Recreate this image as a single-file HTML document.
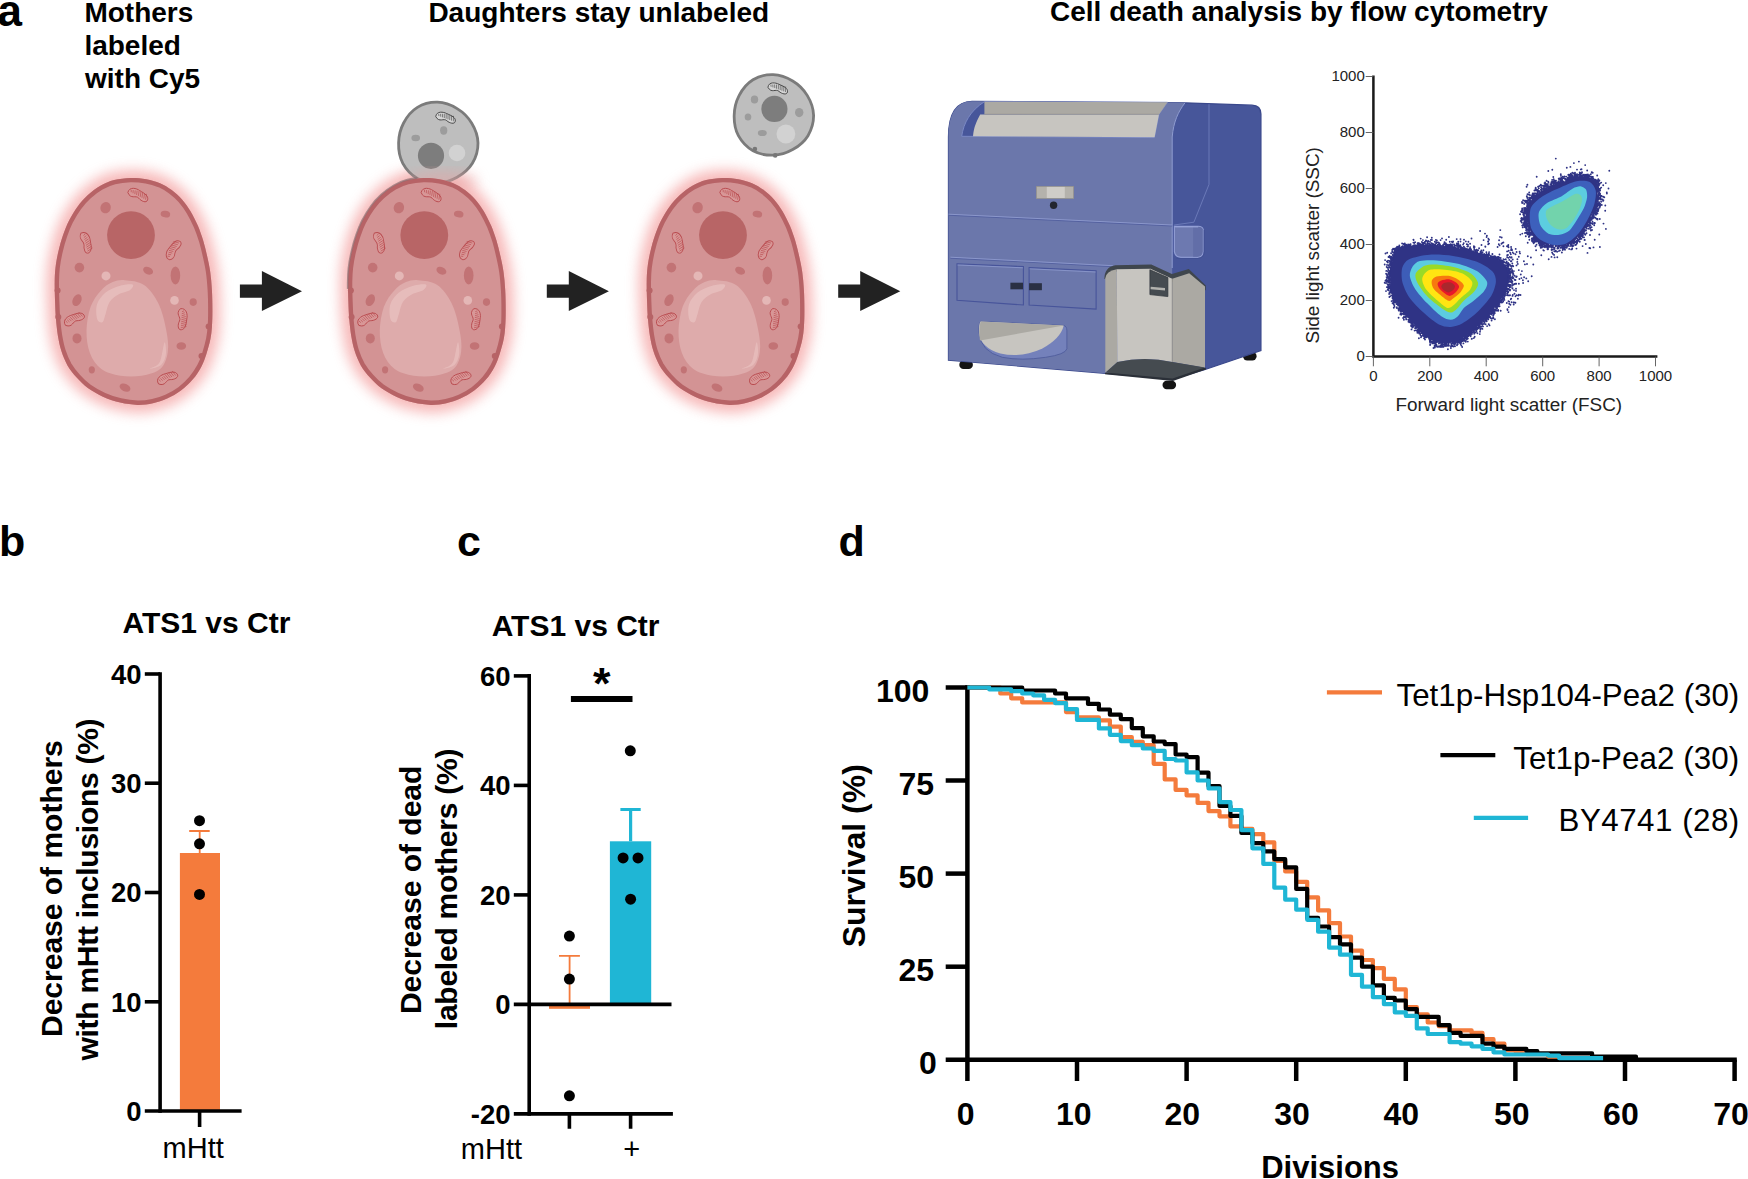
<!DOCTYPE html>
<html lang="en">
<head>
<meta charset="utf-8">
<title>Figure</title>
<style>
html,body{margin:0;padding:0;background:#fff;}
body{width:1748px;height:1179px;overflow:hidden;}
svg{display:block;}
text{font-family:"Liberation Sans",sans-serif;fill:#000;}
.b{font-weight:bold;}
</style>
</head>
<body>
<svg width="1748" height="1179" viewBox="0 0 1748 1179">
<rect width="1748" height="1179" fill="#fff"/>
<defs>
<filter id="glow" x="-30%" y="-30%" width="160%" height="160%"><feGaussianBlur stdDeviation="6.5"/></filter>
<filter id="soft" x="-10%" y="-10%" width="120%" height="120%"><feGaussianBlur stdDeviation="0.5"/></filter>
<linearGradient id="fadeg" x1="0" y1="0" x2="0" y2="1"><stop offset="0.72" stop-color="#fff" stop-opacity="0"/><stop offset="1" stop-color="#e9a0a0" stop-opacity="0.75"/></linearGradient>
<g id="mother">
<clipPath id="cellclip"><path d="M130.4 177.9C135.8 177.8 141.3 178.3 146.2 179.2C151.2 180 155.7 181.4 160 183.2C164.2 185.1 168 187.3 171.7 190.1C175.4 192.8 179 196.2 182.2 199.7C185.3 203.3 187.9 206.9 190.5 211.2C193.1 215.6 195.8 221 197.9 225.8C199.9 230.6 201.5 235.2 203.1 240.3C204.6 245.3 205.9 250.8 207.1 256C208.3 261.3 209.4 266.2 210.2 271.8C211 277.5 211.5 283.6 211.9 290C212.3 296.4 212.4 304.3 212.4 310.4C212.4 316.5 212.3 321.9 211.9 326.7C211.6 331.4 211.3 334.3 210.4 338.9C209.5 343.5 207.8 349.5 206.3 354.2C204.8 358.8 203.5 362.6 201.2 366.9C198.9 371.1 196 375.7 192.6 379.6C189.2 383.6 185.1 387.5 180.9 390.6C176.6 393.8 171.8 396.4 167.1 398.6C162.4 400.7 157.8 402.2 152.9 403.2C147.9 404.3 143 405 137.6 404.9C132.1 404.7 126 403.8 120.3 402.5C114.6 401.2 108.8 399.3 103.5 396.9C98.1 394.5 92.7 391.5 88.2 388.3C83.7 385 80.1 381.4 76.7 377.6C73.2 373.8 70.1 369.8 67.5 365.4C65 360.9 63 356 61.4 351.1C59.8 346.2 58.8 340.9 57.9 335.8C57.1 330.7 56.6 326.2 56.1 320.5C55.6 314.9 55.3 308.6 55.1 302.2C54.9 295.8 54.6 287.8 54.7 282C54.8 276.3 54.9 272.9 55.5 267.8C56.1 262.7 57.1 256.9 58.4 251.5C59.6 246 61.2 240.3 63 235.2C64.8 230 66.7 225.2 69.1 220.4C71.6 215.7 74.4 210.9 77.5 206.7C80.6 202.4 84.1 198.5 87.9 195.1C91.7 191.6 96 188.3 100.4 185.8C104.8 183.3 109.1 181.4 114.2 180.1C119.2 178.8 125.1 178.1 130.4 177.9Z"/></clipPath>
<path d="M130.4 177.9C135.8 177.8 141.3 178.3 146.2 179.2C151.2 180 155.7 181.4 160 183.2C164.2 185.1 168 187.3 171.7 190.1C175.4 192.8 179 196.2 182.2 199.7C185.3 203.3 187.9 206.9 190.5 211.2C193.1 215.6 195.8 221 197.9 225.8C199.9 230.6 201.5 235.2 203.1 240.3C204.6 245.3 205.9 250.8 207.1 256C208.3 261.3 209.4 266.2 210.2 271.8C211 277.5 211.5 283.6 211.9 290C212.3 296.4 212.4 304.3 212.4 310.4C212.4 316.5 212.3 321.9 211.9 326.7C211.6 331.4 211.3 334.3 210.4 338.9C209.5 343.5 207.8 349.5 206.3 354.2C204.8 358.8 203.5 362.6 201.2 366.9C198.9 371.1 196 375.7 192.6 379.6C189.2 383.6 185.1 387.5 180.9 390.6C176.6 393.8 171.8 396.4 167.1 398.6C162.4 400.7 157.8 402.2 152.9 403.2C147.9 404.3 143 405 137.6 404.9C132.1 404.7 126 403.8 120.3 402.5C114.6 401.2 108.8 399.3 103.5 396.9C98.1 394.5 92.7 391.5 88.2 388.3C83.7 385 80.1 381.4 76.7 377.6C73.2 373.8 70.1 369.8 67.5 365.4C65 360.9 63 356 61.4 351.1C59.8 346.2 58.8 340.9 57.9 335.8C57.1 330.7 56.6 326.2 56.1 320.5C55.6 314.9 55.3 308.6 55.1 302.2C54.9 295.8 54.6 287.8 54.7 282C54.8 276.3 54.9 272.9 55.5 267.8C56.1 262.7 57.1 256.9 58.4 251.5C59.6 246 61.2 240.3 63 235.2C64.8 230 66.7 225.2 69.1 220.4C71.6 215.7 74.4 210.9 77.5 206.7C80.6 202.4 84.1 198.5 87.9 195.1C91.7 191.6 96 188.3 100.4 185.8C104.8 183.3 109.1 181.4 114.2 180.1C119.2 178.8 125.1 178.1 130.4 177.9Z" fill="#D39394"/>
<path d="M130.4 177.9C135.8 177.8 141.3 178.3 146.2 179.2C151.2 180 155.7 181.4 160 183.2C164.2 185.1 168 187.3 171.7 190.1C175.4 192.8 179 196.2 182.2 199.7C185.3 203.3 187.9 206.9 190.5 211.2C193.1 215.6 195.8 221 197.9 225.8C199.9 230.6 201.5 235.2 203.1 240.3C204.6 245.3 205.9 250.8 207.1 256C208.3 261.3 209.4 266.2 210.2 271.8C211 277.5 211.5 283.6 211.9 290C212.3 296.4 212.4 304.3 212.4 310.4C212.4 316.5 212.3 321.9 211.9 326.7C211.6 331.4 211.3 334.3 210.4 338.9C209.5 343.5 207.8 349.5 206.3 354.2C204.8 358.8 203.5 362.6 201.2 366.9C198.9 371.1 196 375.7 192.6 379.6C189.2 383.6 185.1 387.5 180.9 390.6C176.6 393.8 171.8 396.4 167.1 398.6C162.4 400.7 157.8 402.2 152.9 403.2C147.9 404.3 143 405 137.6 404.9C132.1 404.7 126 403.8 120.3 402.5C114.6 401.2 108.8 399.3 103.5 396.9C98.1 394.5 92.7 391.5 88.2 388.3C83.7 385 80.1 381.4 76.7 377.6C73.2 373.8 70.1 369.8 67.5 365.4C65 360.9 63 356 61.4 351.1C59.8 346.2 58.8 340.9 57.9 335.8C57.1 330.7 56.6 326.2 56.1 320.5C55.6 314.9 55.3 308.6 55.1 302.2C54.9 295.8 54.6 287.8 54.7 282C54.8 276.3 54.9 272.9 55.5 267.8C56.1 262.7 57.1 256.9 58.4 251.5C59.6 246 61.2 240.3 63 235.2C64.8 230 66.7 225.2 69.1 220.4C71.6 215.7 74.4 210.9 77.5 206.7C80.6 202.4 84.1 198.5 87.9 195.1C91.7 191.6 96 188.3 100.4 185.8C104.8 183.3 109.1 181.4 114.2 180.1C119.2 178.8 125.1 178.1 130.4 177.9Z" fill="none" stroke="#B76366" stroke-width="8.6" clip-path="url(#cellclip)"/>
<circle cx="131.0" cy="235.1" r="23.9" fill="#B86566"/>
<path d="M125 280.2C130.3 280.7 138.5 281.1 144 284.9C149.6 288.8 154.6 295.8 158.3 303.2C162 310.6 164.6 321.3 166.1 329.4C167.7 337.5 168.8 345.3 167.8 351.9C166.8 358.6 164.6 365.1 160.2 369.1C155.8 373 148.3 374.6 141.7 375.7C135 376.8 127 376.8 120.3 375.7C113.6 374.6 106.3 372.8 101.3 369.1C96.2 365.3 92.3 359.6 89.9 353.1C87.4 346.7 86.4 338.3 86.5 330.6C86.7 322.8 88.2 313.5 90.6 306.8C93 300.2 97.1 294.8 100.8 290.7C104.5 286.5 108.6 283.8 112.7 282.1C116.7 280.4 119.8 279.7 125 280.2Z" fill="#DEABAB"/>
<path d="M97.2 319.2C96.3 316.2 95.6 308.9 97 304.4C98.4 300 101.9 295.6 105.6 292.6C109.2 289.5 114.6 287.2 119.1 285.9C123.6 284.6 130.9 283.8 132.6 284.5C134.4 285.2 132.2 288.5 129.8 290.2C127.4 291.8 121.7 292.5 118.4 294.5C115 296.4 111.7 298.8 109.6 302.1C107.5 305.3 106.7 310.6 105.6 313.9C104.4 317.3 103.8 321.4 102.5 322.2C101.1 323.1 98.1 322.1 97.2 319.2Z" fill="#E7BEBD" opacity="0.85"/>
<path d="M150 368.6C149.7 368.2 157.1 367 159.5 362.6C161.9 358.3 163.4 343.8 164.5 342.4C165.5 341.1 166.5 350.6 165.9 354.3C165.3 358.1 163.8 362.6 161.1 365C158.5 367.4 150.3 369 150 368.6Z" fill="#E7BEBD" opacity="0.8"/>
<ellipse cx="105.6" cy="207.7" rx="5.2" ry="5.7" fill="#C27375" transform="rotate(20 105.6 207.7)"/>
<ellipse cx="165.4" cy="214.1" rx="4.8" ry="3.3" fill="#C27375" transform="rotate(10 165.4 214.1)"/>
<ellipse cx="79.4" cy="267.6" rx="4.8" ry="4.8" fill="#C27375" transform="rotate(0 79.4 267.6)"/>
<ellipse cx="148.1" cy="270.7" rx="5.2" ry="3.6" fill="#C27375" transform="rotate(25 148.1 270.7)"/>
<ellipse cx="175.4" cy="275.4" rx="4.8" ry="9.0" fill="#C27375" transform="rotate(0 175.4 275.4)"/>
<ellipse cx="77.0" cy="300.2" rx="4.3" ry="6.2" fill="#C27375" transform="rotate(25 77.0 300.2)"/>
<ellipse cx="193.2" cy="302.1" rx="3.6" ry="3.8" fill="#C27375" transform="rotate(0 193.2 302.1)"/>
<ellipse cx="77.0" cy="338.4" rx="4.5" ry="5.0" fill="#C27375" transform="rotate(0 77.0 338.4)"/>
<ellipse cx="181.3" cy="346.0" rx="4.8" ry="3.8" fill="#C27375" transform="rotate(0 181.3 346.0)"/>
<ellipse cx="91.8" cy="369.8" rx="3.1" ry="3.6" fill="#C27375" transform="rotate(0 91.8 369.8)"/>
<ellipse cx="125.0" cy="387.6" rx="5.7" ry="3.8" fill="#C27375" transform="rotate(25 125.0 387.6)"/>
<circle cx="106.0" cy="275.9" r="4.5" fill="#E4B7B6"/>
<circle cx="174.5" cy="300.4" r="4.3" fill="#E4B7B6"/>
<g transform="translate(138.1 194.7) rotate(15)"><path d="M-10.5 0.5C-10.5 -6.0 -3.1 -5.8 0.5 -4.4C6.3 -2.8 10.5 -1.4 10.5 2.5C10.5 6.4 4.7 5.5 1.6 3.2C-2.1 0.5 -5.8 6.9 -10.5 0.5Z" fill="#D89797" stroke="#B94B4F" stroke-width="0.9"/><path d="M-7.9 -3.0L-7.3 -0.6M-5.9 -3.2L-5.3 -0.1M-3.9 -3.4L-3.3 0.3M-2.0 -3.7L-1.4 0.7M0.0 -3.9L0.6 1.1M2.0 -3.7L2.6 1.6M3.9 -3.4L4.5 2.0M5.9 -3.2L6.5 2.4M7.9 -3.0L8.5 2.9" fill="none" stroke="#B94B4F" stroke-width="0.7" opacity="0.85"/></g>
<g transform="translate(86.2 242.3) rotate(63)"><path d="M-10.5 0.5C-10.5 -6.0 -3.1 -5.8 0.5 -4.4C6.3 -2.8 10.5 -1.4 10.5 2.5C10.5 6.4 4.7 5.5 1.6 3.2C-2.1 0.5 -5.8 6.9 -10.5 0.5Z" fill="#D89797" stroke="#B94B4F" stroke-width="0.9"/><path d="M-7.9 -3.0L-7.3 -0.6M-5.9 -3.2L-5.3 -0.1M-3.9 -3.4L-3.3 0.3M-2.0 -3.7L-1.4 0.7M0.0 -3.9L0.6 1.1M2.0 -3.7L2.6 1.6M3.9 -3.4L4.5 2.0M5.9 -3.2L6.5 2.4M7.9 -3.0L8.5 2.9" fill="none" stroke="#B94B4F" stroke-width="0.7" opacity="0.85"/></g>
<g transform="translate(173.2 249.9) rotate(-68)"><path d="M-10.5 0.5C-10.5 -6.0 -3.1 -5.8 0.5 -4.4C6.3 -2.8 10.5 -1.4 10.5 2.5C10.5 6.4 4.7 5.5 1.6 3.2C-2.1 0.5 -5.8 6.9 -10.5 0.5Z" fill="#D89797" stroke="#B94B4F" stroke-width="0.9"/><path d="M-7.9 -3.0L-7.3 -0.6M-5.9 -3.2L-5.3 -0.1M-3.9 -3.4L-3.3 0.3M-2.0 -3.7L-1.4 0.7M0.0 -3.9L0.6 1.1M2.0 -3.7L2.6 1.6M3.9 -3.4L4.5 2.0M5.9 -3.2L6.5 2.4M7.9 -3.0L8.5 2.9" fill="none" stroke="#B94B4F" stroke-width="0.7" opacity="0.85"/></g>
<g transform="translate(73.9 319.0) rotate(-35)"><path d="M-10.5 0.5C-10.5 -6.0 -3.1 -5.8 0.5 -4.4C6.3 -2.8 10.5 -1.4 10.5 2.5C10.5 6.4 4.7 5.5 1.6 3.2C-2.1 0.5 -5.8 6.9 -10.5 0.5Z" fill="#D89797" stroke="#B94B4F" stroke-width="0.9"/><path d="M-7.9 -3.0L-7.3 -0.6M-5.9 -3.2L-5.3 -0.1M-3.9 -3.4L-3.3 0.3M-2.0 -3.7L-1.4 0.7M0.0 -3.9L0.6 1.1M2.0 -3.7L2.6 1.6M3.9 -3.4L4.5 2.0M5.9 -3.2L6.5 2.4M7.9 -3.0L8.5 2.9" fill="none" stroke="#B94B4F" stroke-width="0.7" opacity="0.85"/></g>
<g transform="translate(182.4 319.0) rotate(82)"><path d="M-10.5 0.5C-10.5 -6.0 -3.1 -5.8 0.5 -4.4C6.3 -2.8 10.5 -1.4 10.5 2.5C10.5 6.4 4.7 5.5 1.6 3.2C-2.1 0.5 -5.8 6.9 -10.5 0.5Z" fill="#D89797" stroke="#B94B4F" stroke-width="0.9"/><path d="M-7.9 -3.0L-7.3 -0.6M-5.9 -3.2L-5.3 -0.1M-3.9 -3.4L-3.3 0.3M-2.0 -3.7L-1.4 0.7M0.0 -3.9L0.6 1.1M2.0 -3.7L2.6 1.6M3.9 -3.4L4.5 2.0M5.9 -3.2L6.5 2.4M7.9 -3.0L8.5 2.9" fill="none" stroke="#B94B4F" stroke-width="0.7" opacity="0.85"/></g>
<g transform="translate(167.1 377.8) rotate(-33)"><path d="M-10.5 0.5C-10.5 -6.0 -3.1 -5.8 0.5 -4.4C6.3 -2.8 10.5 -1.4 10.5 2.5C10.5 6.4 4.7 5.5 1.6 3.2C-2.1 0.5 -5.8 6.9 -10.5 0.5Z" fill="#D89797" stroke="#B94B4F" stroke-width="0.9"/><path d="M-7.9 -3.0L-7.3 -0.6M-5.9 -3.2L-5.3 -0.1M-3.9 -3.4L-3.3 0.3M-2.0 -3.7L-1.4 0.7M0.0 -3.9L0.6 1.1M2.0 -3.7L2.6 1.6M3.9 -3.4L4.5 2.0M5.9 -3.2L6.5 2.4M7.9 -3.0L8.5 2.9" fill="none" stroke="#B94B4F" stroke-width="0.7" opacity="0.85"/></g>
<circle cx="57.6" cy="290.5" r="3" fill="#B76366"/>
<circle cx="58.3" cy="317.0" r="3" fill="#B76366"/>
<circle cx="208.6" cy="326.5" r="3" fill="#B76366"/>
<circle cx="201.5" cy="356.0" r="3" fill="#B76366"/>
</g>
</defs>
<path d="M130.4 177.9C135.8 177.8 141.3 178.3 146.2 179.2C151.2 180 155.7 181.4 160 183.2C164.2 185.1 168 187.3 171.7 190.1C175.4 192.8 179 196.2 182.2 199.7C185.3 203.3 187.9 206.9 190.5 211.2C193.1 215.6 195.8 221 197.9 225.8C199.9 230.6 201.5 235.2 203.1 240.3C204.6 245.3 205.9 250.8 207.1 256C208.3 261.3 209.4 266.2 210.2 271.8C211 277.5 211.5 283.6 211.9 290C212.3 296.4 212.4 304.3 212.4 310.4C212.4 316.5 212.3 321.9 211.9 326.7C211.6 331.4 211.3 334.3 210.4 338.9C209.5 343.5 207.8 349.5 206.3 354.2C204.8 358.8 203.5 362.6 201.2 366.9C198.9 371.1 196 375.7 192.6 379.6C189.2 383.6 185.1 387.5 180.9 390.6C176.6 393.8 171.8 396.4 167.1 398.6C162.4 400.7 157.8 402.2 152.9 403.2C147.9 404.3 143 405 137.6 404.9C132.1 404.7 126 403.8 120.3 402.5C114.6 401.2 108.8 399.3 103.5 396.9C98.1 394.5 92.7 391.5 88.2 388.3C83.7 385 80.1 381.4 76.7 377.6C73.2 373.8 70.1 369.8 67.5 365.4C65 360.9 63 356 61.4 351.1C59.8 346.2 58.8 340.9 57.9 335.8C57.1 330.7 56.6 326.2 56.1 320.5C55.6 314.9 55.3 308.6 55.1 302.2C54.9 295.8 54.6 287.8 54.7 282C54.8 276.3 54.9 272.9 55.5 267.8C56.1 262.7 57.1 256.9 58.4 251.5C59.6 246 61.2 240.3 63 235.2C64.8 230 66.7 225.2 69.1 220.4C71.6 215.7 74.4 210.9 77.5 206.7C80.6 202.4 84.1 198.5 87.9 195.1C91.7 191.6 96 188.3 100.4 185.8C104.8 183.3 109.1 181.4 114.2 180.1C119.2 178.8 125.1 178.1 130.4 177.9Z" transform="translate(0.0 0)" fill="#F28A8A" stroke="#F28A8A" stroke-width="16" filter="url(#glow)" opacity="0.6"/>
<path d="M130.4 177.9C135.8 177.8 141.3 178.3 146.2 179.2C151.2 180 155.7 181.4 160 183.2C164.2 185.1 168 187.3 171.7 190.1C175.4 192.8 179 196.2 182.2 199.7C185.3 203.3 187.9 206.9 190.5 211.2C193.1 215.6 195.8 221 197.9 225.8C199.9 230.6 201.5 235.2 203.1 240.3C204.6 245.3 205.9 250.8 207.1 256C208.3 261.3 209.4 266.2 210.2 271.8C211 277.5 211.5 283.6 211.9 290C212.3 296.4 212.4 304.3 212.4 310.4C212.4 316.5 212.3 321.9 211.9 326.7C211.6 331.4 211.3 334.3 210.4 338.9C209.5 343.5 207.8 349.5 206.3 354.2C204.8 358.8 203.5 362.6 201.2 366.9C198.9 371.1 196 375.7 192.6 379.6C189.2 383.6 185.1 387.5 180.9 390.6C176.6 393.8 171.8 396.4 167.1 398.6C162.4 400.7 157.8 402.2 152.9 403.2C147.9 404.3 143 405 137.6 404.9C132.1 404.7 126 403.8 120.3 402.5C114.6 401.2 108.8 399.3 103.5 396.9C98.1 394.5 92.7 391.5 88.2 388.3C83.7 385 80.1 381.4 76.7 377.6C73.2 373.8 70.1 369.8 67.5 365.4C65 360.9 63 356 61.4 351.1C59.8 346.2 58.8 340.9 57.9 335.8C57.1 330.7 56.6 326.2 56.1 320.5C55.6 314.9 55.3 308.6 55.1 302.2C54.9 295.8 54.6 287.8 54.7 282C54.8 276.3 54.9 272.9 55.5 267.8C56.1 262.7 57.1 256.9 58.4 251.5C59.6 246 61.2 240.3 63 235.2C64.8 230 66.7 225.2 69.1 220.4C71.6 215.7 74.4 210.9 77.5 206.7C80.6 202.4 84.1 198.5 87.9 195.1C91.7 191.6 96 188.3 100.4 185.8C104.8 183.3 109.1 181.4 114.2 180.1C119.2 178.8 125.1 178.1 130.4 177.9Z" transform="translate(293.3 0)" fill="#F28A8A" stroke="#F28A8A" stroke-width="16" filter="url(#glow)" opacity="0.6"/>
<path d="M130.4 177.9C135.8 177.8 141.3 178.3 146.2 179.2C151.2 180 155.7 181.4 160 183.2C164.2 185.1 168 187.3 171.7 190.1C175.4 192.8 179 196.2 182.2 199.7C185.3 203.3 187.9 206.9 190.5 211.2C193.1 215.6 195.8 221 197.9 225.8C199.9 230.6 201.5 235.2 203.1 240.3C204.6 245.3 205.9 250.8 207.1 256C208.3 261.3 209.4 266.2 210.2 271.8C211 277.5 211.5 283.6 211.9 290C212.3 296.4 212.4 304.3 212.4 310.4C212.4 316.5 212.3 321.9 211.9 326.7C211.6 331.4 211.3 334.3 210.4 338.9C209.5 343.5 207.8 349.5 206.3 354.2C204.8 358.8 203.5 362.6 201.2 366.9C198.9 371.1 196 375.7 192.6 379.6C189.2 383.6 185.1 387.5 180.9 390.6C176.6 393.8 171.8 396.4 167.1 398.6C162.4 400.7 157.8 402.2 152.9 403.2C147.9 404.3 143 405 137.6 404.9C132.1 404.7 126 403.8 120.3 402.5C114.6 401.2 108.8 399.3 103.5 396.9C98.1 394.5 92.7 391.5 88.2 388.3C83.7 385 80.1 381.4 76.7 377.6C73.2 373.8 70.1 369.8 67.5 365.4C65 360.9 63 356 61.4 351.1C59.8 346.2 58.8 340.9 57.9 335.8C57.1 330.7 56.6 326.2 56.1 320.5C55.6 314.9 55.3 308.6 55.1 302.2C54.9 295.8 54.6 287.8 54.7 282C54.8 276.3 54.9 272.9 55.5 267.8C56.1 262.7 57.1 256.9 58.4 251.5C59.6 246 61.2 240.3 63 235.2C64.8 230 66.7 225.2 69.1 220.4C71.6 215.7 74.4 210.9 77.5 206.7C80.6 202.4 84.1 198.5 87.9 195.1C91.7 191.6 96 188.3 100.4 185.8C104.8 183.3 109.1 181.4 114.2 180.1C119.2 178.8 125.1 178.1 130.4 177.9Z" transform="translate(592.0 0)" fill="#F28A8A" stroke="#F28A8A" stroke-width="16" filter="url(#glow)" opacity="0.6"/>
<g><path d="M478 142.9C478.1 149.6 475.8 157.5 472.4 163.3C468.9 169 462.9 174 457.1 177.2C451.3 180.5 444.2 182.6 437.6 182.8C431 183 423.2 181.6 417.4 178.4C411.6 175.1 406 169.2 402.8 163.3C399.7 157.4 398.4 149.6 398.6 142.9C398.7 136.2 400.5 128.9 403.6 123C406.7 117.1 411.7 110.9 417.4 107.4C423.1 103.9 431 102 437.6 102.2C444.2 102.4 451.4 105.1 457.1 108.6C462.8 112 468.1 117.2 471.6 123C475.1 128.7 477.8 136.2 478 142.9Z" fill="#BEBEBE" stroke="#7B7B7B" stroke-width="2.8"/><circle cx="431.0" cy="155.8" r="13.1" fill="#7D7D7D"/><circle cx="457.0" cy="153.0" r="8.3" fill="#D2D2D2"/><ellipse cx="443.7" cy="130.5" rx="3.6" ry="4.2" fill="#9C9C9C"/><ellipse cx="415.7" cy="138.0" rx="4.3" ry="3.2" fill="#9C9C9C"/><g transform="translate(445.7 117.5) rotate(8)"><path d="M-10.0 0.5C-10.0 -5.5 -3.0 -5.3 0.5 -4.0C6.0 -2.5 10.0 -1.3 10.0 2.3C10.0 5.9 4.5 5.1 1.5 3.0C-2.0 0.4 -5.5 6.4 -10.0 0.5Z" fill="#D4D4D4" stroke="#444" stroke-width="0.9"/><path d="M-7.5 -2.7L-6.9 -0.5M-5.6 -2.9L-5.0 -0.1M-3.8 -3.2L-3.1 0.3M-1.9 -3.4L-1.3 0.7M0.0 -3.6L0.6 1.1M1.9 -3.4L2.5 1.5M3.8 -3.2L4.3 1.9M5.6 -2.9L6.2 2.3M7.5 -2.7L8.1 2.7" fill="none" stroke="#444" stroke-width="0.7" opacity="0.85"/></g></g>
<ellipse cx="442" cy="181" rx="36" ry="9" fill="#E7A3A3" opacity="0.55" filter="url(#glow)"/>
<g><path d="M813.6 115.3C813.7 122 811.4 129.9 808 135.7C804.5 141.4 798.5 146.4 792.7 149.6C786.9 152.9 779.8 155 773.2 155.2C766.6 155.4 758.8 154 753 150.8C747.2 147.5 741.6 141.6 738.4 135.7C735.3 129.8 734 122 734.2 115.3C734.3 108.6 736.1 101.3 739.2 95.4C742.3 89.5 747.3 83.3 753 79.8C758.7 76.3 766.6 74.4 773.2 74.6C779.8 74.8 787 77.5 792.7 81C798.4 84.4 803.7 89.6 807.2 95.4C810.7 101.1 813.4 108.6 813.6 115.3Z" fill="#BEBEBE" stroke="#7B7B7B" stroke-width="2.8"/><circle cx="774.4" cy="108.9" r="13.1" fill="#7D7D7D"/><circle cx="785.9" cy="134.0" r="9.4" fill="#D2D2D2"/><ellipse cx="754.5" cy="99.4" rx="3.7" ry="4.0" fill="#9C9C9C"/><ellipse cx="748.0" cy="117.0" rx="3.3" ry="3.5" fill="#9C9C9C"/><ellipse cx="799.2" cy="112.6" rx="4.2" ry="4.6" fill="#9C9C9C"/><ellipse cx="762.3" cy="133.0" rx="4.5" ry="3.1" fill="#9C9C9C"/><g transform="translate(777.9 88.2) rotate(8)"><path d="M-10.0 0.5C-10.0 -5.5 -3.0 -5.3 0.5 -4.0C6.0 -2.5 10.0 -1.3 10.0 2.3C10.0 5.9 4.5 5.1 1.5 3.0C-2.0 0.4 -5.5 6.4 -10.0 0.5Z" fill="#D4D4D4" stroke="#444" stroke-width="0.9"/><path d="M-7.5 -2.7L-6.9 -0.5M-5.6 -2.9L-5.0 -0.1M-3.8 -3.2L-3.1 0.3M-1.9 -3.4L-1.3 0.7M0.0 -3.6L0.6 1.1M1.9 -3.4L2.5 1.5M3.8 -3.2L4.3 1.9M5.6 -2.9L6.2 2.3M7.5 -2.7L8.1 2.7" fill="none" stroke="#444" stroke-width="0.7" opacity="0.85"/></g></g>
<circle cx="754.9" cy="149" r="2.3" fill="#777"/><circle cx="775.2" cy="155.4" r="2.3" fill="#777"/>
<use href="#mother" transform="translate(0.0 0)"/>
<use href="#mother" transform="translate(293.3 0)"/>
<use href="#mother" transform="translate(592.0 0)"/>
<path d="M130.4 177.9C135.8 177.8 141.3 178.3 146.2 179.2C151.2 180 155.7 181.4 160 183.2C164.2 185.1 168 187.3 171.7 190.1C175.4 192.8 179 196.2 182.2 199.7C185.3 203.3 187.9 206.9 190.5 211.2C193.1 215.6 195.8 221 197.9 225.8C199.9 230.6 201.5 235.2 203.1 240.3C204.6 245.3 205.9 250.8 207.1 256C208.3 261.3 209.4 266.2 210.2 271.8C211 277.5 211.5 283.6 211.9 290C212.3 296.4 212.4 304.3 212.4 310.4C212.4 316.5 212.3 321.9 211.9 326.7C211.6 331.4 211.3 334.3 210.4 338.9C209.5 343.5 207.8 349.5 206.3 354.2C204.8 358.8 203.5 362.6 201.2 366.9C198.9 371.1 196 375.7 192.6 379.6C189.2 383.6 185.1 387.5 180.9 390.6C176.6 393.8 171.8 396.4 167.1 398.6C162.4 400.7 157.8 402.2 152.9 403.2C147.9 404.3 143 405 137.6 404.9C132.1 404.7 126 403.8 120.3 402.5C114.6 401.2 108.8 399.3 103.5 396.9C98.1 394.5 92.7 391.5 88.2 388.3C83.7 385 80.1 381.4 76.7 377.6C73.2 373.8 70.1 369.8 67.5 365.4C65 360.9 63 356 61.4 351.1C59.8 346.2 58.8 340.9 57.9 335.8C57.1 330.7 56.6 326.2 56.1 320.5C55.6 314.9 55.3 308.6 55.1 302.2C54.9 295.8 54.6 287.8 54.7 282C54.8 276.3 54.9 272.9 55.5 267.8C56.1 262.7 57.1 256.9 58.4 251.5C59.6 246 61.2 240.3 63 235.2C64.8 230 66.7 225.2 69.1 220.4C71.6 215.7 74.4 210.9 77.5 206.7C80.6 202.4 84.1 198.5 87.9 195.1C91.7 191.6 96 188.3 100.4 185.8C104.8 183.3 109.1 181.4 114.2 180.1C119.2 178.8 125.1 178.1 130.4 177.9Z" pathLength="100" stroke-dasharray="0 76 23 1" fill="none" stroke="#8C6E70" stroke-width="1.6" opacity="0.7" transform="translate(426.7 292.0) scale(1.004) translate(-426.7 -292.0) translate(293.3 0)"/>
<path d="M239.9 284.4H261.9V270.9L302.0 291.2L261.9 311.1V297.8H239.9Z" fill="#222"/>
<path d="M546.8 284.4H568.8V270.9L608.9 291.2L568.8 311.1V297.8H546.8Z" fill="#222"/>
<path d="M838.2 284.4H860.2V270.9L900.3 291.2L860.2 311.1V297.8H838.2Z" fill="#222"/>
<g class="b" font-size="28">
<text x="84.4" y="21.5">Mothers</text>
<text x="84.4" y="54.9">labeled</text>
<text x="85" y="88.4">with Cy5</text>
<text x="428.4" y="21.5">Daughters stay unlabeled</text>
<text x="1050" y="21">Cell death analysis by flow cytometry</text>
</g>
<g id="cytometer">
<rect x="959.3" y="360.5" width="13.6" height="8.6" rx="4.2" fill="#141414"/>
<rect x="1162.5" y="380.7" width="13.6" height="8.6" rx="4.2" fill="#141414"/>
<rect x="1243.0" y="351.9" width="13.6" height="8.6" rx="4.2" fill="#141414"/>
<path d="M948.5 360.1V137C948.5 113 957 101.5 972 101.3L1185 102.8L1252 105.2C1258 105.5 1260.9 108.5 1260.9 114V350.6L1205.2 369.5L1173.1 379L1105.2 373.3Z" fill="#47569A" stroke="#3A488C" stroke-width="1.3"/>
<path d="M948.5 360.1V137C948.5 113 957 101.5 972 101.3L1185 102.8C1178 112 1173.5 122 1172.2 137V372.5L1105.2 373.3Z" fill="#6B77AB"/>
<path d="M1209.0 104.2L1209.0 184.4L1193.9 222.2L1174.1 225.0" fill="none" stroke="#6E7DBB" stroke-width="0.9"/>
<path d="M1185 102.8C1178 112 1173.5 122 1172.2 137V268" fill="none" stroke="#8E9BCF" stroke-width="1"/>
<path d="M984.4 101.7C970.2 110.8 963.6 123.0 961.7 136.3L1154.3 137.6L1159.0 114.2L1167.5 102.3Z" fill="#47569A" stroke="#7A88C4" stroke-width="1"/>
<path d="M984.4 101.7L1167.5 102.3L1159.0 114.5L984.4 114.2Z" fill="#ABA9A3" />
<path d="M980.2 114.5L1159.0 114.5L1154.6 137.2L973.0 136.3C974.0 126.3 976.2 122.5 980.2 114.5Z" fill="#C7C5C0"/>
<path d="M984.4 114.2H1159.0" stroke="#98968F" stroke-width="0.7"/>
<rect x="1036.3" y="186.3" width="37.4" height="12.3" fill="#B4B2AC" stroke="#8F8D86" stroke-width="0.6"/>
<rect x="1046.8" y="186.9" width="18.0" height="11.1" fill="#CFCDC8"/>
<circle cx="1053.6" cy="205.2" r="3.7" fill="#23262F"/>
<path d="M948.5 215.1L1172.2 225.9" stroke="#5562A0" stroke-width="1.1"/>
<path d="M948.5 214.2L1172.2 225.0" stroke="#8E9BCF" stroke-width="0.9"/>
<path d="M950.4 258.1L1112.7 266.6" stroke="#5562A0" stroke-width="1.1"/>
<path d="M950.4 257.2L1112.7 265.7" stroke="#8E9BCF" stroke-width="0.9"/>
<path d="M957.0 263.8L1023.4 266.6L1023.4 305.0L957.0 300.2Z" fill="#6B77AB" stroke="#47549A" stroke-width="1.1"/>
<path d="M957.5 265.0L1022.9 267.8" stroke="#8E9BCF" stroke-width="0.8" fill="none"/>
<path d="M1029.1 267.6L1096.1 270.8L1096.1 309.1L1029.1 305.0Z" fill="#6B77AB" stroke="#47549A" stroke-width="1.1"/>
<path d="M1029.6 268.8L1095.6 272.0" stroke="#8E9BCF" stroke-width="0.8" fill="none"/>
<rect x="1010.4" y="282.7" width="12.6" height="6.6" fill="#2A3044"/>
<rect x="1029.1" y="283.2" width="12.8" height="7.0" fill="#2A3044"/>
<path d="M980.6 321.4L1063.7 325.5Q1066.9 326.1 1066.9 330.8L1066.9 348.8Q1065.5 354.4 1045.7 357.3Q1021.2 361.0 1002.3 357.3Q980.6 351.6 979.1 332.7Q978.7 323.3 980.6 321.4Z" fill="#7481BB" stroke="#4F5C9C" stroke-width="0.9"/>
<path d="M980.6 321.4L1063.7 325.5Q1060.8 338.4 1041.9 348.8Q1021.2 358.2 1000.4 353.5Q980.6 347.8 979.1 332.7Q978.7 323.3 980.6 321.4Z" fill="#C7C5C0"/>
<path d="M980.6 321.4L1063.7 325.5L980.0 340.6Q978.3 330.8 980.6 321.4Z" fill="#ABA9A3"/>
<path d="M1104.4 279.0Q1104.4 267.2 1115.2 265.3L1151.3 264.6L1171.9 274.0L1188.8 268.9L1205.8 285.5L1205.8 290.6L1189.5 276.2L1172.2 281.9L1150.6 271.8L1116.0 271.8Q1108.0 273.3 1107.0 279.0Z" fill="#3F464D"/>
<path d="M1105.3 372.8L1105.3 278.3Q1105.9 271.1 1116.7 269.2L1117.4 362.0Z" fill="#ABA9A3"/>
<path d="M1116.7 269.2L1150.6 268.7L1172.2 278.8L1172.2 362.0Q1144.8 356.2 1117.4 362.0Z" fill="#C7C5C0"/>
<path d="M1172.2 278.8L1189.2 273.3L1205.0 286.5L1205.0 367.7L1172.2 362.0Z" fill="#ABA9A3"/>
<path d="M1172.2 278.8L1172.2 362.0" stroke="#8E8C86" stroke-width="0.7" fill="none"/>
<path d="M1105.0 372.8L1105.0 374.2L1172.9 380.9L1205.8 369.6L1205.8 367.7Z" fill="#2B3038"/>
<path d="M1105.6 372.5L1117.4 362.0Q1144.8 356.2 1172.2 362.0L1205.0 367.5L1172.5 378.6Z" fill="#454B50"/>
<path d="M1149.9 269.7L1167.9 277.6L1167.9 296.6L1149.9 294.6Z" fill="#454B50" stroke="#2E343A" stroke-width="0.7"/>
<path d="M1150.6 286.7L1165.0 288.0L1165.0 290.6L1150.6 289.3Z" fill="#B2B2AE"/>
<path d="M1174.4 226.4L1174.4 251.6Q1174.8 256.7 1180.9 257.4L1197.5 257.4Q1203.2 256.7 1203.2 251.6L1203.2 229.3Q1202.5 226.8 1198.2 226.4Z" fill="#6D79B0" stroke="#919DD4" stroke-width="1.1"/>
<path d="M1193.1 226.8L1193.1 256.8L1197.5 256.8Q1202.6 256.3 1202.6 251.6L1202.6 229.3Q1202.1 227.1 1198.2 226.8Z" fill="#626EA8"/>
<path d="M1175.1 226.8L1198.2 226.8" stroke="#97A3D8" stroke-width="1.2" fill="none"/>
<path d="M1176.5 258.4L1197.9 258.4Q1204.2 257.7 1204.2 251.6L1204.2 230.0" stroke="#3F4C90" stroke-width="0.9" fill="none" opacity="0.8"/>
</g>
<g id="flowplot">
<path d="M1462.6 338.1h0M1391.1 285.2h0M1390.8 270.0h0M1429.8 336.4h0M1509.7 286.0h0M1486.9 254.1h0M1392.3 257.0h0M1506.3 285.6h0M1491.1 257.5h0M1481.7 322.5h0M1502.9 263.1h0M1476.5 252.9h0M1454.6 246.3h0M1389.2 279.6h0M1469.9 334.7h0M1502.0 295.8h0M1505.8 286.1h0M1466.5 338.2h0M1482.5 324.6h0M1506.5 270.2h0M1505.8 259.2h0M1459.6 246.1h0M1393.0 260.0h0M1453.4 342.9h0M1393.0 259.8h0M1494.7 306.0h0M1442.9 245.7h0M1416.1 330.3h0M1435.5 344.4h0M1460.7 344.3h0M1475.1 252.8h0M1505.3 290.4h0M1404.4 317.4h0M1499.1 261.0h0M1389.2 282.1h0M1435.1 341.6h0M1489.3 255.0h0M1407.2 245.4h0M1391.7 268.5h0M1390.0 280.7h0M1388.6 265.2h0M1395.0 250.0h0M1427.7 241.7h0M1386.3 279.7h0M1442.1 344.4h0M1506.6 274.0h0M1508.9 277.9h0M1464.8 248.0h0M1497.3 257.5h0M1461.5 248.7h0M1392.8 251.9h0M1392.2 251.6h0M1470.1 243.7h0M1402.3 309.5h0M1444.8 247.3h0M1394.3 305.2h0M1505.5 267.5h0M1461.3 345.4h0M1391.3 272.4h0M1457.7 246.9h0M1495.9 307.3h0M1503.7 292.2h0M1394.4 296.5h0M1510.8 282.1h0M1438.0 341.2h0M1451.4 344.6h0M1414.2 245.3h0M1399.8 250.0h0M1410.7 319.8h0M1461.2 340.9h0M1469.2 251.1h0M1398.8 248.8h0M1396.1 248.4h0M1460.3 249.3h0M1484.8 254.9h0M1393.6 304.2h0M1424.1 335.4h0M1441.0 345.9h0M1457.9 248.7h0M1495.9 259.3h0M1408.5 321.7h0M1396.8 308.0h0M1459.5 339.1h0M1475.6 253.3h0M1495.7 256.8h0M1510.2 272.6h0M1506.2 276.7h0M1497.1 308.2h0M1487.3 256.3h0M1388.5 257.0h0M1391.8 295.4h0M1389.9 284.2h0M1395.3 301.3h0M1414.7 246.4h0M1492.4 254.3h0M1390.9 285.7h0M1389.1 293.9h0M1391.1 285.8h0M1506.5 276.5h0M1388.2 286.1h0M1451.8 245.7h0M1393.8 298.7h0M1497.6 306.5h0M1501.9 294.5h0M1490.5 313.5h0M1420.1 330.2h0M1473.6 251.2h0M1433.0 343.4h0M1478.7 325.9h0M1459.8 339.5h0M1501.5 261.9h0M1434.9 347.5h0M1507.1 273.0h0M1422.0 332.6h0M1443.0 342.3h0M1462.1 340.3h0M1390.7 279.4h0M1390.9 292.3h0M1386.8 287.1h0M1504.0 298.7h0M1466.1 250.1h0M1508.2 263.0h0M1500.4 260.3h0M1498.4 305.8h0M1387.4 271.1h0M1447.9 245.8h0M1509.0 264.9h0M1460.3 246.7h0M1455.2 248.6h0M1475.3 251.1h0M1463.4 343.4h0M1392.7 254.9h0M1386.0 291.1h0M1501.9 299.7h0M1507.8 284.0h0M1508.6 276.1h0M1392.8 291.5h0M1504.4 299.9h0M1413.2 245.6h0M1405.0 313.2h0M1420.5 330.8h0M1399.5 309.3h0M1435.1 340.9h0M1505.2 289.6h0M1492.5 258.5h0M1487.0 255.7h0M1498.6 306.4h0M1436.2 341.9h0M1480.5 322.5h0M1502.4 264.0h0M1421.8 332.6h0M1389.6 281.4h0M1440.7 245.8h0M1404.9 246.7h0M1452.4 246.5h0M1392.9 290.0h0M1447.5 245.2h0M1427.5 244.9h0M1484.6 318.4h0M1388.5 288.8h0M1496.9 259.8h0M1436.8 346.5h0M1406.0 314.8h0M1436.9 242.5h0M1393.2 292.1h0M1504.3 259.6h0M1393.8 293.0h0M1393.6 260.2h0M1508.8 285.9h0M1472.8 251.6h0M1412.7 325.2h0M1505.4 291.7h0M1404.8 243.5h0M1388.7 285.0h0M1396.6 300.3h0M1461.1 247.7h0M1502.4 294.9h0M1412.4 327.5h0M1446.2 344.1h0M1432.7 245.3h0M1507.6 273.9h0M1481.3 323.8h0M1488.0 254.8h0M1479.8 253.7h0M1402.1 313.8h0M1411.4 320.3h0M1384.7 282.8h0M1405.2 248.1h0M1460.8 246.7h0M1495.8 304.6h0M1510.3 273.1h0M1491.2 314.5h0M1496.3 259.2h0M1480.7 253.1h0M1504.5 291.8h0M1502.6 261.8h0M1396.9 307.5h0M1429.9 339.6h0M1474.1 330.1h0M1464.6 338.4h0M1484.9 255.7h0M1485.3 317.7h0M1450.7 244.3h0M1448.3 341.9h0M1490.1 311.8h0M1480.5 323.4h0M1490.0 257.6h0M1509.0 281.9h0M1423.4 333.6h0M1387.7 277.3h0M1442.7 246.6h0M1498.3 258.7h0M1484.2 322.8h0M1505.2 267.0h0M1471.3 330.8h0M1499.6 306.2h0M1506.3 289.0h0M1505.3 269.2h0M1446.2 244.7h0M1504.6 291.2h0M1462.1 339.3h0M1506.6 276.1h0M1504.4 265.6h0M1491.5 311.5h0M1505.3 283.7h0M1424.5 336.2h0M1506.5 277.6h0M1493.9 307.7h0M1460.9 342.5h0M1506.3 274.4h0M1504.9 290.2h0M1478.6 327.7h0M1399.4 246.3h0M1395.2 302.2h0M1403.9 319.8h0M1388.2 288.7h0M1418.4 328.7h0M1390.8 287.1h0M1485.4 255.3h0M1419.2 333.5h0M1417.9 243.8h0M1433.0 243.9h0M1477.0 329.4h0M1425.3 336.2h0M1467.0 248.9h0M1512.6 276.5h0M1504.4 296.0h0M1418.7 327.2h0M1467.4 336.6h0M1504.3 292.5h0M1418.2 245.6h0M1402.2 247.4h0M1433.8 339.8h0M1459.1 341.9h0M1434.7 246.1h0M1444.6 344.5h0M1479.8 325.7h0M1506.0 277.0h0M1507.0 275.8h0M1491.0 318.2h0M1396.8 253.3h0M1422.9 333.7h0M1440.2 245.0h0M1508.6 273.0h0M1394.7 256.0h0M1441.6 341.6h0M1467.8 341.6h0M1472.5 329.8h0M1388.7 290.4h0M1436.7 341.3h0M1469.5 333.1h0M1449.5 247.3h0M1476.4 253.5h0M1479.2 327.6h0M1433.7 339.9h0M1389.6 271.8h0M1506.2 277.1h0M1430.9 341.1h0M1446.7 343.1h0M1425.0 246.1h0M1462.0 248.8h0M1393.3 256.3h0M1463.1 338.5h0M1396.3 247.6h0M1442.1 246.6h0M1406.2 319.4h0M1436.7 345.2h0M1502.2 260.9h0M1502.9 261.8h0M1495.9 259.6h0M1465.2 341.3h0M1394.1 256.4h0M1507.5 277.6h0M1429.2 244.0h0M1385.5 280.7h0M1447.5 247.0h0M1446.2 239.7h0M1417.8 332.2h0M1494.9 257.0h0M1388.5 272.6h0M1481.7 254.4h0M1497.6 304.9h0M1497.3 301.5h0M1492.0 256.6h0M1390.1 267.8h0M1503.2 291.9h0M1504.2 293.9h0M1420.7 244.5h0M1398.1 303.1h0M1462.0 341.2h0M1488.3 319.4h0M1390.9 268.0h0M1450.0 246.0h0M1493.0 311.5h0M1399.8 247.2h0M1508.6 273.1h0M1473.4 329.8h0M1397.1 250.6h0M1506.7 282.7h0M1459.6 341.4h0M1490.2 316.9h0M1407.0 316.1h0M1482.2 254.3h0M1390.2 285.2h0M1504.1 266.5h0M1489.5 325.4h0M1425.2 244.0h0M1434.4 341.1h0M1452.6 343.0h0M1407.3 246.8h0M1504.3 266.7h0M1455.4 342.6h0M1502.9 263.4h0M1446.1 342.5h0M1399.8 250.4h0M1457.9 340.9h0M1393.5 299.2h0M1507.2 276.6h0M1441.0 245.8h0M1446.1 342.1h0M1395.9 250.3h0M1504.4 293.5h0M1398.7 250.5h0M1507.9 273.4h0M1395.2 299.1h0M1507.6 273.5h0M1389.5 273.0h0M1475.6 332.3h0M1394.8 252.4h0M1429.9 341.4h0M1504.5 290.8h0M1418.6 330.8h0M1410.7 245.9h0M1399.0 251.5h0M1409.8 319.8h0M1444.3 244.5h0M1430.1 337.9h0M1418.5 243.3h0M1487.7 256.3h0M1391.6 301.1h0M1389.3 288.2h0M1414.2 243.1h0M1398.2 251.5h0M1403.5 313.1h0M1504.9 269.9h0M1453.1 342.6h0M1499.6 301.3h0M1419.9 330.3h0M1387.9 287.1h0M1397.1 253.4h0M1470.5 332.4h0M1494.5 310.1h0M1445.1 342.1h0M1395.4 300.8h0M1447.7 345.5h0M1470.0 250.9h0M1387.4 275.9h0M1498.5 305.2h0M1453.7 343.6h0M1417.1 331.0h0M1394.7 248.6h0M1497.6 303.7h0M1391.2 256.7h0M1423.0 243.6h0M1482.4 324.8h0M1421.6 244.9h0M1502.7 293.3h0M1392.3 266.2h0M1477.3 251.0h0M1480.9 322.6h0M1506.7 277.4h0M1417.3 245.0h0M1502.2 294.6h0M1499.1 261.7h0M1495.0 304.7h0M1391.0 272.6h0M1393.1 248.6h0M1403.4 314.0h0M1398.9 247.7h0M1504.9 287.1h0M1466.8 244.2h0M1494.0 257.6h0M1389.5 292.6h0M1395.5 256.2h0M1493.2 318.4h0M1393.8 307.8h0M1403.3 244.0h0M1458.8 247.0h0M1418.9 330.6h0M1422.1 246.2h0M1491.9 309.6h0M1425.0 337.4h0M1389.9 287.0h0M1512.6 272.7h0M1396.9 301.0h0M1507.4 284.2h0M1474.1 332.4h0M1435.5 342.9h0M1389.1 278.9h0M1406.0 245.3h0M1502.7 292.7h0M1396.4 252.0h0M1394.1 258.7h0M1478.0 253.5h0M1503.1 266.2h0M1422.2 245.7h0M1434.9 246.5h0M1393.0 260.4h0M1508.0 282.6h0M1463.1 244.6h0M1445.9 342.3h0M1440.3 245.4h0M1460.4 248.2h0M1467.6 249.5h0M1507.2 276.5h0M1458.4 340.9h0M1488.0 314.8h0M1392.2 249.9h0M1482.2 324.7h0M1428.4 336.0h0M1472.1 251.5h0M1509.1 281.2h0M1454.5 248.2h0M1392.9 298.8h0M1417.6 243.2h0M1506.4 272.9h0M1391.5 266.0h0M1504.2 264.9h0M1505.5 284.3h0M1452.7 246.8h0M1389.6 273.9h0M1435.4 342.3h0M1451.2 246.6h0M1486.6 319.0h0M1387.1 278.0h0M1504.1 298.3h0M1494.0 259.5h0M1425.1 241.8h0M1469.0 335.1h0M1389.2 274.5h0M1504.1 267.3h0M1506.6 286.6h0M1412.6 322.7h0M1499.4 304.0h0M1394.5 255.8h0M1467.7 335.6h0M1459.5 339.5h0M1468.3 249.8h0M1468.6 250.6h0M1479.4 325.1h0M1430.1 342.5h0M1501.3 302.6h0M1440.9 347.1h0M1426.3 334.3h0M1391.6 287.0h0M1493.3 308.0h0M1447.1 342.4h0M1388.1 260.6h0M1423.6 334.5h0M1390.9 257.8h0M1506.7 268.7h0M1484.3 255.0h0M1501.7 295.6h0M1493.6 313.5h0M1401.2 310.6h0M1507.8 271.6h0M1465.6 338.1h0M1465.6 248.6h0M1390.1 283.1h0M1512.8 278.2h0M1484.1 253.9h0M1402.1 309.0h0M1455.0 346.2h0M1509.1 284.6h0M1503.0 266.8h0M1395.5 254.0h0M1424.7 245.6h0M1451.0 247.6h0M1426.5 336.1h0M1470.6 248.6h0M1435.2 342.3h0M1441.5 341.6h0M1502.3 263.7h0M1511.1 277.8h0M1390.9 275.3h0M1428.7 337.4h0M1480.2 326.8h0M1400.6 313.1h0M1505.3 288.6h0M1426.0 335.5h0M1407.9 316.9h0M1503.9 294.0h0M1470.3 336.1h0M1459.9 340.3h0M1480.3 329.8h0M1465.2 337.5h0M1495.8 258.4h0M1401.9 246.8h0M1456.2 249.2h0M1499.8 261.1h0M1506.0 270.6h0M1437.2 341.9h0M1507.1 268.1h0M1458.2 241.8h0M1390.5 274.1h0M1507.4 279.3h0M1412.2 322.2h0M1431.8 339.0h0M1495.7 257.5h0M1497.4 260.1h0M1508.1 291.9h0M1402.3 248.3h0M1470.6 336.2h0M1416.3 327.0h0M1422.3 331.9h0M1452.6 342.3h0M1397.1 246.7h0M1464.7 337.3h0M1479.1 248.3h0M1423.8 245.7h0M1426.0 337.4h0M1457.7 344.3h0M1392.0 293.3h0M1469.9 333.2h0M1391.0 285.8h0M1401.4 311.6h0M1389.9 286.8h0M1507.5 280.7h0M1471.7 251.4h0M1392.7 256.9h0M1460.4 245.2h0M1440.4 342.2h0M1428.0 245.7h0M1401.0 307.5h0M1436.2 243.3h0M1393.7 255.3h0M1399.0 250.4h0M1413.4 322.4h0M1501.6 263.6h0M1484.8 255.1h0M1405.7 246.8h0M1386.9 274.5h0M1486.3 316.8h0M1393.4 262.4h0M1428.5 241.3h0M1427.6 335.7h0M1441.4 344.2h0M1394.5 257.6h0M1494.1 258.6h0M1405.3 313.8h0M1495.6 260.1h0M1486.0 255.9h0M1446.5 245.2h0M1493.6 310.5h0M1502.9 291.1h0M1450.9 348.0h0M1499.9 259.1h0M1401.2 310.4h0M1489.9 313.0h0M1419.6 245.9h0M1393.6 256.1h0M1510.4 271.6h0M1398.8 308.3h0M1411.5 329.4h0M1502.3 263.9h0M1506.8 268.5h0M1428.9 336.4h0M1493.6 312.0h0M1391.8 266.3h0M1393.2 252.8h0M1397.4 251.0h0M1480.6 322.2h0M1504.7 290.1h0M1504.3 296.3h0M1479.8 324.2h0M1506.0 268.2h0M1424.1 242.7h0M1387.3 267.4h0M1389.2 275.5h0M1453.8 247.4h0M1397.9 304.8h0M1508.2 289.1h0M1433.9 244.7h0M1493.3 307.7h0M1414.7 245.9h0M1450.5 341.5h0M1505.2 290.4h0M1395.1 296.6h0M1393.2 292.7h0M1507.0 270.7h0M1485.6 320.7h0M1391.3 288.8h0M1507.8 285.4h0M1472.1 252.5h0M1409.7 321.2h0M1458.3 342.4h0M1387.2 252.8h0M1391.3 263.8h0M1390.1 267.4h0M1485.7 255.1h0M1392.2 259.0h0M1426.7 245.9h0M1503.6 266.4h0M1449.1 341.7h0M1413.3 326.8h0M1394.1 249.5h0M1481.1 252.8h0M1502.9 293.7h0M1393.3 295.7h0M1500.1 298.4h0M1510.9 287.1h0M1439.0 244.2h0M1413.4 242.6h0M1406.4 316.7h0M1492.4 257.0h0M1480.5 322.2h0M1410.2 321.6h0M1496.7 305.0h0M1454.8 341.0h0M1501.2 261.3h0M1406.2 244.7h0M1508.6 271.8h0M1506.9 285.9h0M1499.2 260.3h0M1484.8 255.4h0M1451.7 248.0h0M1470.7 331.2h0M1460.0 339.9h0M1502.4 295.0h0M1495.0 257.4h0M1491.2 257.0h0M1493.9 307.6h0M1485.2 319.6h0M1470.3 335.1h0M1406.2 315.5h0M1505.8 279.9h0M1486.9 315.7h0M1418.9 338.2h0M1501.9 297.7h0M1502.3 262.7h0M1488.1 317.1h0M1392.8 296.6h0M1494.1 258.1h0M1491.6 320.5h0M1434.0 341.7h0M1502.7 263.6h0M1503.9 268.2h0M1393.6 256.1h0M1461.6 249.4h0M1506.5 262.8h0M1397.4 251.6h0M1486.7 317.6h0M1458.4 243.8h0M1430.7 245.8h0M1457.4 342.5h0M1403.1 318.0h0M1421.0 337.3h0M1497.6 302.5h0M1393.1 259.4h0M1453.5 341.6h0M1402.1 243.4h0M1444.1 244.0h0M1502.3 296.2h0M1439.9 342.9h0M1424.2 242.9h0M1413.3 326.0h0M1391.3 289.5h0M1446.6 246.0h0M1503.0 263.9h0M1398.0 247.5h0M1508.2 275.9h0M1412.7 326.3h0M1419.5 332.4h0M1423.9 243.2h0M1414.0 325.8h0M1466.5 251.1h0M1494.3 259.5h0M1391.0 264.0h0M1445.1 345.1h0M1437.7 346.9h0M1397.1 249.3h0M1436.6 246.2h0M1470.8 334.1h0M1390.6 258.4h0M1464.3 336.6h0M1395.5 299.2h0M1458.9 342.6h0M1460.6 340.3h0M1504.1 262.0h0M1403.6 248.0h0M1422.5 332.5h0M1435.9 239.9h0M1419.4 244.9h0M1394.7 254.5h0M1390.2 273.8h0M1475.6 253.1h0M1431.6 339.4h0M1452.3 341.0h0M1467.9 244.8h0M1500.2 300.1h0M1392.4 263.6h0M1500.2 261.4h0M1427.6 335.6h0M1386.8 281.6h0M1411.2 325.1h0M1507.5 279.4h0M1455.6 343.7h0M1398.0 304.4h0M1404.5 248.5h0M1434.5 343.6h0M1447.1 345.7h0M1508.1 289.3h0M1469.3 334.5h0M1494.9 319.3h0M1399.3 245.5h0M1411.5 323.4h0M1390.5 296.1h0M1476.5 252.0h0M1492.9 258.4h0M1507.0 280.3h0M1494.7 313.3h0M1404.8 312.8h0M1494.2 257.5h0M1389.7 277.2h0M1402.3 311.3h0M1489.8 312.0h0M1393.0 255.3h0M1481.2 326.7h0M1486.7 321.3h0M1475.3 328.4h0M1403.0 311.3h0M1495.4 257.0h0M1439.3 346.7h0M1463.1 340.9h0M1397.9 249.9h0M1423.8 332.6h0M1400.6 249.6h0M1480.0 331.7h0M1483.8 323.9h0M1393.1 290.7h0M1429.3 339.0h0M1455.6 342.9h0M1412.4 246.3h0M1454.4 340.2h0M1390.4 271.9h0M1428.4 337.3h0M1409.2 322.2h0M1390.7 290.4h0M1445.3 244.0h0M1487.1 326.1h0M1478.9 253.6h0M1389.7 288.3h0M1425.0 339.5h0M1506.6 279.1h0M1509.4 277.5h0M1472.5 251.2h0M1434.7 246.4h0M1391.7 286.7h0M1483.3 319.7h0M1403.8 248.9h0M1394.4 306.5h0M1389.1 278.2h0M1495.6 259.2h0M1504.4 267.9h0M1395.1 299.9h0M1393.4 294.2h0M1413.6 322.6h0M1412.7 246.5h0M1391.9 266.5h0M1503.4 261.9h0M1483.7 254.6h0M1506.2 278.5h0M1446.9 342.7h0M1428.1 243.7h0M1395.8 255.7h0M1392.7 258.8h0M1476.2 329.7h0M1426.6 337.0h0M1393.3 302.5h0M1390.4 267.5h0M1483.1 319.6h0M1505.3 286.2h0M1505.6 265.3h0M1488.7 324.1h0M1460.7 341.2h0M1439.1 341.5h0M1475.1 250.2h0M1444.8 343.7h0M1485.4 320.1h0M1406.2 247.9h0M1490.7 256.9h0M1390.1 273.3h0M1498.6 257.0h0M1505.4 287.1h0M1459.3 342.2h0M1389.9 267.4h0M1402.2 309.1h0M1502.8 260.8h0M1500.7 310.7h0M1388.3 282.5h0M1394.7 251.6h0M1393.1 300.6h0M1491.3 309.9h0M1391.2 268.9h0M1406.6 247.2h0M1504.3 289.3h0M1467.3 246.6h0M1488.0 318.2h0M1488.2 315.9h0M1443.4 346.9h0M1436.1 344.5h0M1500.6 261.9h0M1502.6 262.2h0M1448.8 345.7h0M1412.4 246.8h0M1442.7 343.6h0M1470.2 247.1h0M1505.5 295.0h0M1427.4 244.1h0M1487.9 317.2h0M1430.1 241.9h0M1389.7 257.3h0M1386.9 261.5h0M1391.8 266.1h0M1402.2 249.2h0M1438.1 242.4h0M1391.5 262.0h0M1464.9 250.0h0M1474.4 333.6h0M1451.1 245.8h0M1434.6 341.7h0M1395.3 300.2h0M1428.9 337.9h0M1413.4 326.0h0M1512.6 277.0h0M1493.7 259.1h0M1507.8 273.4h0M1502.6 302.3h0M1508.5 272.3h0M1502.5 298.4h0M1504.3 265.9h0M1487.3 316.4h0M1400.7 306.4h0M1391.2 291.2h0M1501.1 261.6h0M1496.4 258.9h0M1504.8 289.5h0M1507.8 268.8h0M1499.1 257.5h0M1507.4 274.4h0M1488.9 314.6h0M1496.2 303.2h0M1480.4 253.4h0M1469.2 332.7h0M1392.1 266.0h0M1408.6 247.4h0M1405.9 316.4h0M1384.7 264.5h0M1392.5 303.1h0M1475.1 328.2h0M1457.0 244.4h0M1496.8 310.5h0M1444.5 242.2h0M1491.2 257.5h0M1512.2 271.2h0M1502.2 263.4h0M1479.0 324.9h0M1457.4 340.9h0M1460.9 343.3h0M1499.5 302.8h0M1420.7 244.3h0M1434.8 346.6h0M1507.5 278.8h0M1480.2 322.3h0M1444.8 247.1h0M1446.1 343.6h0M1437.9 244.7h0M1461.7 338.2h0M1398.9 250.6h0M1489.9 316.6h0M1430.0 244.2h0M1422.0 332.2h0M1507.0 271.9h0M1409.5 320.9h0M1453.9 343.9h0M1393.9 294.6h0M1386.3 270.9h0M1393.3 249.2h0M1434.9 244.6h0M1389.9 261.8h0M1454.9 341.4h0M1468.8 335.0h0M1416.0 246.0h0M1444.7 242.5h0M1390.2 265.0h0M1394.3 297.9h0M1416.1 326.5h0M1506.9 279.5h0M1469.9 249.7h0M1509.4 278.9h0M1492.0 309.6h0M1388.3 277.1h0M1482.5 252.2h0M1425.8 335.9h0M1418.8 332.2h0M1477.8 253.9h0M1395.2 300.0h0M1508.7 272.3h0M1505.9 279.9h0M1393.7 256.4h0M1509.4 285.4h0M1507.0 278.5h0M1483.4 250.3h0M1398.1 248.1h0M1510.9 279.1h0M1505.6 265.5h0M1464.3 335.9h0M1498.6 300.4h0M1454.6 342.8h0M1407.5 316.3h0M1395.3 254.0h0M1393.6 255.7h0M1504.9 288.4h0M1390.1 263.9h0M1408.2 246.5h0M1495.1 259.2h0M1478.4 328.2h0M1390.0 256.9h0M1391.3 271.1h0M1421.3 333.0h0M1462.7 341.1h0M1437.1 246.4h0M1419.4 243.5h0M1394.5 252.9h0M1396.4 302.0h0M1503.3 297.1h0M1395.7 252.3h0M1478.1 328.5h0M1392.3 262.1h0M1414.6 330.6h0M1417.0 325.7h0M1392.8 264.5h0M1513.5 284.7h0M1432.8 244.5h0M1490.5 257.6h0M1498.8 304.9h0M1385.1 260.1h0M1439.3 244.3h0M1483.7 254.9h0M1474.2 249.0h0M1478.0 325.3h0M1500.7 257.9h0M1476.4 328.5h0M1505.6 289.7h0M1389.2 275.0h0M1464.5 340.5h0M1398.7 310.6h0M1460.3 341.8h0M1508.5 272.8h0M1415.5 327.3h0M1476.8 328.0h0M1485.6 318.0h0M1391.0 262.6h0M1506.7 280.0h0M1454.8 248.0h0M1415.9 328.0h0M1424.0 338.2h0M1463.9 339.4h0M1493.7 314.6h0M1498.3 302.4h0M1403.3 247.9h0M1395.3 254.8h0M1392.0 291.9h0M1498.8 257.7h0M1443.1 245.5h0M1488.9 253.8h0M1496.3 307.8h0M1402.2 247.0h0M1464.5 339.8h0M1398.1 252.0h0M1474.5 332.5h0M1456.4 245.1h0M1465.7 338.4h0M1410.0 318.7h0M1413.4 239.6h0M1427.3 243.2h0M1474.0 331.1h0M1392.7 290.1h0M1449.7 246.3h0M1392.5 258.4h0M1497.6 259.3h0M1394.8 254.8h0M1399.4 305.0h0M1389.0 270.7h0M1413.0 324.8h0M1500.8 301.0h0M1408.1 244.4h0M1460.3 341.6h0M1509.9 290.5h0M1394.7 256.1h0M1431.0 245.1h0M1493.3 315.4h0M1451.4 346.0h0M1507.0 267.1h0M1450.4 341.6h0M1398.6 317.7h0M1448.7 343.3h0M1401.4 248.6h0M1400.2 248.4h0M1461.4 340.5h0M1390.4 265.1h0M1506.6 285.3h0M1403.9 247.5h0M1506.8 277.0h0M1425.9 337.0h0M1514.4 284.0h0M1507.8 266.1h0M1500.0 260.6h0M1492.3 318.4h0M1504.4 287.2h0M1395.0 250.8h0M1506.5 283.2h0M1461.1 338.5h0M1422.9 335.2h0M1479.5 323.9h0M1401.7 248.3h0M1486.4 316.1h0M1504.6 267.2h0M1446.0 345.6h0M1435.2 345.9h0M1432.0 245.3h0M1398.0 247.1h0M1389.8 292.8h0M1399.6 248.3h0M1477.4 333.2h0M1497.8 257.0h0M1403.2 248.7h0M1390.0 278.6h0M1478.1 250.3h0M1449.8 241.7h0M1507.4 283.1h0M1447.7 247.4h0M1501.7 262.5h0M1513.4 277.9h0M1424.3 335.1h0M1466.1 335.4h0M1411.9 326.5h0M1496.3 305.0h0M1468.3 334.4h0M1436.2 341.5h0M1500.5 261.4h0M1390.4 287.7h0M1492.8 309.7h0M1514.6 279.8h0M1460.8 248.5h0M1425.9 240.5h0M1389.3 281.3h0M1470.3 335.1h0M1391.3 271.0h0M1389.4 297.0h0M1391.0 271.1h0M1442.5 345.6h0M1450.7 244.2h0M1474.4 329.1h0M1387.1 275.3h0M1491.4 313.6h0M1396.5 304.0h0M1389.1 266.9h0M1487.2 256.5h0M1508.5 279.0h0M1458.8 341.4h0M1417.4 332.7h0M1424.9 242.8h0M1432.2 343.4h0M1498.1 259.7h0M1392.3 293.8h0M1412.9 321.9h0M1410.9 322.8h0M1413.4 322.1h0M1394.5 299.4h0M1493.3 257.3h0M1454.1 340.4h0M1444.1 341.8h0M1498.9 299.3h0M1508.4 263.4h0M1498.6 302.6h0M1419.3 333.1h0M1510.5 273.7h0M1480.5 323.0h0M1416.9 326.2h0M1435.0 245.8h0M1397.0 249.5h0M1458.4 339.8h0M1394.7 255.5h0M1391.4 265.6h0M1443.2 244.8h0M1415.1 328.3h0M1401.9 249.1h0M1387.9 262.6h0M1422.1 332.4h0M1508.8 271.2h0M1391.8 290.3h0M1413.0 247.2h0M1439.5 243.8h0M1481.3 322.0h0M1468.0 246.3h0M1454.9 245.4h0M1506.0 279.9h0M1437.6 245.9h0M1430.8 244.1h0M1423.7 334.3h0M1438.4 244.4h0M1493.3 256.4h0M1513.9 271.1h0M1496.0 307.3h0M1482.0 322.7h0M1391.2 288.3h0M1502.6 296.9h0M1424.4 332.5h0M1423.1 244.5h0M1448.2 344.5h0M1494.7 256.3h0M1474.1 332.7h0M1435.2 244.8h0M1408.3 245.4h0M1475.7 329.9h0M1501.9 295.8h0M1389.4 260.9h0M1434.5 345.9h0M1422.4 244.4h0M1465.2 250.0h0M1396.8 253.3h0M1415.1 242.2h0M1404.1 314.3h0M1478.7 326.4h0M1506.1 279.3h0M1420.5 331.1h0M1430.1 345.0h0M1494.3 310.6h0M1439.8 245.7h0M1487.7 255.6h0M1502.3 297.0h0M1465.7 335.4h0M1498.3 304.1h0M1508.7 274.5h0M1433.5 348.0h0M1470.5 332.8h0M1389.9 275.5h0M1506.2 278.7h0M1445.7 345.1h0M1462.2 347.0h0M1389.7 293.9h0M1485.6 324.2h0M1446.1 247.0h0M1492.5 313.2h0M1446.1 245.4h0M1401.3 314.7h0M1505.5 293.0h0M1493.3 317.7h0M1459.9 343.1h0M1497.9 259.1h0M1415.2 324.8h0M1465.9 337.4h0M1480.6 328.8h0M1391.6 279.6h0M1505.5 268.5h0M1420.2 333.9h0M1426.7 335.2h0M1492.7 258.5h0M1503.7 266.1h0M1449.2 244.7h0M1400.4 314.4h0M1499.5 300.1h0M1404.4 313.0h0M1389.9 284.7h0M1391.3 286.0h0M1496.3 304.4h0M1508.1 284.7h0M1503.2 295.0h0M1464.3 250.0h0M1429.9 245.5h0M1508.4 286.0h0M1501.7 264.3h0M1439.4 341.6h0M1470.8 251.2h0M1391.4 267.9h0M1502.8 293.1h0M1436.7 242.2h0M1455.1 248.1h0M1399.0 251.6h0M1508.2 270.5h0M1411.0 325.9h0M1503.4 261.6h0M1434.3 340.9h0M1506.1 286.9h0M1450.5 341.3h0M1506.6 275.5h0M1464.8 247.9h0M1405.7 317.6h0M1458.4 249.1h0M1446.0 243.5h0M1432.8 343.3h0M1453.4 341.5h0M1404.0 316.4h0M1476.3 326.6h0M1386.7 266.9h0M1436.8 341.8h0M1482.3 328.7h0M1391.9 263.4h0M1491.5 310.3h0M1507.1 288.2h0M1400.0 308.5h0M1427.7 245.4h0M1465.8 341.0h0M1435.4 340.8h0M1467.9 338.6h0M1423.7 336.1h0M1418.4 246.2h0M1401.3 311.3h0M1468.6 335.1h0M1449.6 245.8h0M1486.5 320.7h0M1499.7 301.9h0M1389.6 273.6h0M1469.6 249.9h0M1504.9 266.1h0M1462.6 338.8h0M1398.4 249.8h0M1443.2 344.1h0M1391.1 253.2h0M1508.4 264.6h0M1485.1 255.6h0M1412.7 324.9h0M1488.9 253.4h0M1390.2 291.7h0M1495.5 310.2h0M1453.2 247.5h0M1485.1 320.2h0M1435.6 340.6h0M1401.9 309.4h0M1399.7 248.1h0M1387.7 280.2h0M1480.8 327.1h0M1420.7 333.3h0M1471.7 338.9h0M1498.2 300.7h0M1385.5 253.5h0M1505.4 270.5h0M1492.7 308.3h0M1404.8 244.5h0M1426.4 335.7h0M1440.7 345.4h0M1451.7 341.1h0M1391.5 263.7h0M1436.8 245.8h0M1391.4 289.5h0M1422.9 246.1h0M1477.3 328.0h0M1387.0 264.9h0M1507.1 263.5h0M1404.9 314.4h0M1480.9 252.1h0M1457.0 345.3h0M1503.2 301.2h0M1395.4 252.9h0M1476.5 331.2h0M1494.4 311.8h0M1425.4 334.0h0M1495.7 304.7h0M1478.8 328.0h0M1469.6 251.8h0M1391.6 266.7h0M1399.8 250.2h0M1461.8 247.8h0M1481.5 253.7h0M1486.6 253.9h0M1508.3 268.2h0M1481.7 254.2h0M1436.6 341.8h0M1441.9 346.9h0M1471.5 333.4h0M1386.1 273.8h0M1426.2 335.3h0M1466.2 335.5h0M1433.2 343.3h0M1502.0 292.8h0M1444.5 342.4h0M1492.4 253.9h0M1507.5 291.9h0M1435.7 344.1h0M1497.4 259.3h0M1493.4 310.3h0M1394.8 250.5h0M1503.7 289.2h0M1452.4 346.1h0M1461.5 338.8h0M1395.4 300.4h0M1407.5 246.5h0M1499.5 254.5h0M1393.1 263.6h0M1419.9 245.6h0M1504.8 289.0h0M1462.8 339.6h0M1391.1 274.2h0M1509.8 275.8h0M1404.1 248.6h0M1503.7 261.6h0M1462.8 250.1h0M1493.8 310.7h0M1390.4 287.3h0M1430.2 344.5h0M1447.9 349.3h0M1466.2 334.5h0M1387.8 267.8h0M1406.3 318.9h0M1508.7 276.7h0M1508.7 274.0h0M1459.1 245.3h0M1396.1 301.1h0M1510.6 281.7h0M1508.1 279.5h0M1413.6 240.0h0M1397.3 250.9h0M1415.8 246.1h0M1390.5 282.5h0M1462.2 339.2h0M1487.1 315.6h0M1421.8 336.1h0M1409.1 322.1h0M1450.7 346.1h0M1400.7 310.1h0M1469.2 333.8h0M1500.5 260.7h0M1444.6 342.1h0M1493.8 309.3h0M1489.6 313.5h0M1394.4 294.9h0M1432.5 341.8h0M1402.1 249.1h0M1397.7 247.5h0M1452.7 242.5h0M1389.8 271.9h0M1472.0 333.9h0M1507.5 273.1h0M1506.3 283.8h0M1393.5 258.9h0M1511.8 277.3h0M1409.5 322.1h0M1391.0 259.9h0M1439.0 341.9h0M1507.2 295.2h0M1394.5 255.9h0M1399.7 308.2h0M1506.0 285.0h0M1392.4 259.6h0M1423.1 242.9h0M1506.3 282.6h0M1500.1 297.7h0M1504.4 295.8h0M1393.6 258.2h0M1502.4 299.6h0M1481.2 254.2h0M1468.3 250.9h0M1393.7 296.7h0M1387.7 289.8h0M1398.5 246.8h0M1409.9 246.6h0M1395.6 251.0h0M1388.1 285.2h0M1483.1 321.1h0M1410.7 247.4h0M1390.9 289.4h0M1419.0 329.2h0M1420.6 335.4h0M1398.1 248.3h0M1466.1 250.2h0M1501.2 296.5h0M1457.9 340.2h0M1479.8 326.3h0M1465.9 338.6h0M1398.5 246.7h0M1394.9 255.3h0M1441.3 344.7h0M1507.5 283.8h0M1462.8 247.8h0M1410.6 244.2h0M1503.5 259.1h0M1506.6 268.4h0M1482.9 320.5h0M1478.4 327.4h0M1404.6 246.7h0M1398.1 305.4h0M1471.3 330.6h0M1404.7 246.4h0M1389.2 272.2h0M1501.4 297.1h0M1454.1 244.4h0M1470.9 335.1h0M1473.8 338.1h0M1503.6 264.2h0M1431.9 240.0h0M1422.8 333.3h0M1392.1 291.2h0M1506.3 275.8h0M1413.1 246.1h0M1504.8 269.0h0M1397.1 251.2h0M1443.9 346.3h0M1493.1 315.8h0M1495.6 309.2h0M1390.9 268.8h0M1443.4 342.0h0M1458.1 248.3h0M1444.8 247.1h0M1481.4 253.0h0M1491.7 314.1h0M1419.0 330.3h0M1425.8 335.2h0M1503.4 267.4h0M1417.0 327.2h0M1507.3 273.4h0M1507.3 282.5h0M1472.3 332.3h0M1445.1 247.3h0M1392.4 266.9h0M1406.5 315.7h0M1427.0 244.3h0M1508.0 285.7h0M1488.9 314.6h0M1456.6 340.7h0M1502.0 264.0h0M1459.8 340.7h0M1484.4 254.3h0M1435.6 341.2h0M1404.1 248.5h0M1436.4 342.4h0M1507.5 294.0h0M1421.1 245.3h0M1436.9 340.5h0M1415.2 324.6h0M1474.2 252.8h0M1475.4 252.1h0M1506.7 272.1h0M1506.7 274.0h0M1455.3 340.0h0M1419.6 243.8h0M1503.3 291.5h0M1445.8 346.0h0M1428.5 335.5h0M1473.1 331.5h0M1453.1 241.5h0M1488.3 255.7h0M1412.2 323.4h0M1461.0 339.5h0M1402.8 309.3h0M1391.8 288.1h0M1396.6 307.5h0M1400.1 306.7h0M1498.5 258.7h0M1466.7 339.2h0M1452.4 343.4h0M1409.3 244.7h0M1451.8 247.0h0M1500.1 260.7h0M1482.4 328.9h0M1446.9 345.7h0M1502.7 261.9h0M1403.5 311.2h0M1399.4 306.8h0M1511.7 282.4h0M1506.5 276.8h0M1475.9 330.0h0M1503.0 266.2h0M1450.5 341.7h0M1504.6 296.6h0M1492.7 307.8h0M1401.7 308.1h0M1503.6 292.6h0M1489.6 313.8h0M1395.1 299.5h0M1463.8 338.7h0M1501.9 263.2h0M1411.3 319.8h0M1504.2 297.0h0M1488.9 313.6h0M1423.2 333.1h0M1486.1 255.3h0M1506.2 271.8h0M1433.6 341.2h0M1392.2 292.9h0M1417.9 329.4h0M1448.8 345.1h0M1386.0 283.1h0M1390.0 264.8h0M1498.2 310.8h0M1495.5 310.5h0M1458.2 245.2h0M1507.1 281.0h0M1407.0 246.2h0M1507.3 266.1h0M1464.6 336.0h0M1508.8 279.1h0M1435.0 341.9h0M1456.4 340.8h0M1398.3 305.3h0M1506.8 283.5h0M1465.4 248.8h0M1426.1 336.4h0M1398.4 309.0h0M1456.9 340.7h0M1430.6 339.0h0M1506.9 265.3h0M1485.7 255.5h0M1511.2 279.9h0M1393.2 257.3h0M1483.0 326.4h0M1509.8 270.0h0M1388.3 269.3h0M1409.6 245.1h0M1400.1 248.3h0M1415.1 245.1h0M1503.1 264.7h0M1489.8 312.6h0M1400.9 248.0h0M1463.8 248.8h0M1393.1 296.4h0M1484.5 321.2h0M1440.0 246.5h0M1501.1 301.7h0M1500.3 300.9h0M1471.4 332.9h0M1391.4 274.1h0M1500.3 260.6h0M1403.8 248.2h0M1460.4 246.5h0M1507.6 282.4h0M1410.7 319.9h0M1460.6 247.8h0M1400.8 308.4h0M1390.7 267.7h0M1419.2 327.8h0M1388.5 281.1h0M1419.9 245.8h0M1487.2 318.1h0M1412.7 323.4h0M1475.7 328.7h0M1501.1 301.1h0M1464.4 337.3h0M1485.0 321.1h0M1396.2 255.0h0M1489.1 315.5h0M1502.7 291.2h0M1507.0 276.9h0M1452.2 345.4h0M1402.2 308.6h0M1455.8 247.7h0M1429.0 335.9h0M1507.1 291.2h0M1393.9 303.1h0M1389.3 279.3h0M1467.8 336.4h0M1500.0 300.9h0M1387.6 284.3h0M1480.1 323.7h0M1470.3 334.5h0M1480.8 253.4h0M1418.1 242.9h0M1394.2 300.1h0M1448.7 246.3h0M1431.9 342.2h0M1504.4 266.2h0M1461.0 342.7h0M1503.8 291.2h0M1441.3 341.6h0M1504.9 268.8h0M1508.7 281.5h0M1499.7 259.6h0M1393.5 296.5h0M1510.5 285.0h0M1500.8 262.4h0M1394.6 253.9h0M1467.6 338.7h0M1433.7 341.7h0M1461.5 337.9h0M1498.2 310.0h0M1474.2 333.8h0M1464.2 336.3h0M1453.0 343.3h0M1442.4 343.0h0M1425.1 334.6h0M1393.7 260.9h0M1440.6 240.1h0M1505.8 270.4h0M1470.9 333.5h0M1488.7 317.2h0M1426.8 245.8h0M1506.6 271.4h0M1390.4 276.3h0M1436.0 242.2h0M1471.9 338.8h0M1410.4 320.8h0M1470.9 332.8h0M1443.8 246.9h0M1404.2 248.6h0M1455.5 248.1h0M1413.5 321.9h0M1479.2 326.9h0M1392.3 264.5h0M1451.2 343.3h0M1389.6 256.0h0M1396.6 252.1h0M1400.4 311.1h0M1416.5 245.7h0M1454.0 341.9h0M1480.4 251.9h0M1391.6 264.7h0M1494.9 257.2h0M1390.8 289.8h0M1460.5 339.4h0M1422.5 242.8h0M1432.8 339.5h0M1432.2 339.2h0M1479.8 334.1h0M1401.5 308.5h0M1394.3 301.7h0M1434.3 343.0h0M1391.2 272.6h0M1391.0 272.9h0M1486.4 252.3h0M1510.9 278.3h0M1391.5 288.9h0M1510.3 278.5h0M1496.5 258.4h0M1406.1 245.8h0M1397.2 251.3h0M1507.1 279.1h0M1421.5 331.1h0M1510.0 269.0h0M1502.7 292.3h0M1507.3 293.4h0M1505.5 284.7h0M1411.4 321.8h0M1509.5 275.7h0M1428.2 241.0h0M1408.1 247.5h0M1390.9 276.0h0M1491.6 257.7h0M1389.8 281.2h0M1500.4 298.5h0M1453.4 346.5h0M1485.9 319.6h0M1490.9 255.9h0M1473.8 329.8h0M1409.4 322.0h0M1390.1 263.2h0M1506.9 278.6h0M1395.8 299.2h0M1435.1 341.2h0M1445.9 342.2h0M1438.9 343.5h0M1410.0 318.9h0M1404.2 311.3h0M1435.2 341.5h0M1417.7 245.3h0M1496.4 259.6h0M1468.2 336.2h0M1506.8 289.6h0M1439.0 342.1h0M1490.4 317.9h0M1410.0 245.1h0M1402.9 310.1h0M1404.5 246.0h0M1388.4 273.5h0M1474.6 247.0h0M1439.0 346.3h0M1405.8 246.8h0M1446.3 343.6h0M1402.8 246.1h0M1474.7 336.8h0M1446.9 342.3h0M1506.2 275.7h0M1486.6 318.1h0M1426.9 241.1h0M1489.1 252.1h0M1386.6 277.1h0M1493.2 258.5h0M1511.0 272.5h0M1433.8 339.4h0M1504.9 268.8h0M1422.9 246.1h0M1419.3 245.2h0M1476.6 249.8h0M1469.5 248.4h0M1508.7 277.0h0M1430.1 339.8h0M1395.7 302.0h0M1505.5 262.7h0M1428.1 243.4h0M1396.0 250.4h0M1390.8 270.7h0M1408.3 319.8h0M1440.7 342.7h0M1501.6 260.2h0M1495.0 258.3h0M1445.2 344.0h0M1389.2 287.5h0M1456.0 341.5h0M1429.8 340.4h0M1394.0 302.8h0M1463.6 338.5h0M1510.3 275.5h0M1397.0 249.4h0M1391.8 260.9h0M1494.7 312.9h0M1474.0 331.2h0M1492.3 313.0h0M1452.6 248.2h0M1425.3 334.0h0M1391.9 265.2h0M1399.4 247.3h0M1487.8 256.6h0M1429.0 337.5h0M1501.3 300.2h0M1430.1 245.6h0M1486.5 317.7h0M1459.1 340.7h0M1388.8 287.4h0M1393.7 261.8h0M1496.3 306.1h0M1395.4 302.4h0M1435.4 244.0h0M1431.7 243.2h0M1389.0 274.6h0M1436.5 341.5h0M1493.4 312.5h0M1443.4 246.4h0M1421.9 241.9h0M1458.7 245.9h0M1465.8 341.7h0M1481.3 250.5h0M1392.4 297.9h0M1508.1 291.5h0M1505.6 288.3h0M1395.5 254.7h0M1456.8 243.5h0M1419.0 329.1h0M1423.0 333.3h0M1444.1 345.9h0M1414.5 325.6h0M1498.1 301.0h0M1477.1 252.4h0M1500.2 261.6h0M1402.5 309.2h0M1388.8 278.4h0M1391.8 266.4h0M1435.2 341.3h0M1493.9 259.1h0M1390.9 262.6h0M1465.2 336.8h0M1484.5 322.2h0M1454.1 344.6h0M1454.9 341.4h0M1508.6 279.2h0M1459.7 342.0h0M1508.1 276.4h0M1391.2 270.1h0M1402.0 246.8h0M1481.7 253.6h0M1504.1 294.2h0M1511.8 280.4h0M1404.5 248.0h0M1496.2 303.3h0M1391.3 260.5h0M1392.9 263.8h0M1501.3 262.6h0M1506.4 286.3h0M1471.1 249.7h0M1466.9 336.9h0M1442.2 341.7h0M1433.3 340.2h0" stroke="#2F3385" stroke-width="1.9" stroke-linecap="round" fill="none"/>
<path d="M1590.8 227.4h0M1537.5 192.2h0M1553.6 183.0h0M1596.4 185.3h0M1553.8 247.6h0M1590.0 227.5h0M1594.9 183.7h0M1573.4 177.1h0M1579.4 176.9h0M1536.1 195.2h0M1591.5 210.6h0M1595.3 217.8h0M1558.5 246.3h0M1543.9 242.1h0M1529.9 206.4h0M1543.6 186.1h0M1590.3 217.2h0M1558.7 184.1h0M1564.7 242.3h0M1581.2 230.8h0M1529.4 226.6h0M1562.7 245.2h0M1580.5 178.8h0M1547.4 189.7h0M1595.1 191.7h0M1543.5 189.2h0M1577.0 181.0h0M1546.7 243.4h0M1595.1 198.5h0M1530.5 229.7h0M1593.1 213.9h0M1573.5 240.3h0M1570.5 241.0h0M1544.6 188.8h0M1538.0 237.7h0M1593.9 205.2h0M1575.6 179.9h0M1580.3 178.3h0M1529.1 209.0h0M1529.0 214.5h0M1562.1 180.0h0M1597.4 187.2h0M1552.0 188.2h0M1570.5 240.6h0M1590.7 212.6h0M1556.3 245.9h0M1589.0 220.4h0M1584.8 180.0h0M1531.5 230.9h0M1584.3 226.9h0M1582.0 178.5h0M1584.7 179.3h0M1560.9 244.4h0M1524.1 217.2h0M1596.1 196.7h0M1590.6 176.8h0M1591.0 213.1h0M1533.8 198.9h0M1592.5 184.4h0M1527.8 219.3h0M1525.3 213.2h0M1542.8 241.2h0M1578.7 234.3h0M1522.5 212.2h0M1597.7 201.1h0M1526.2 226.1h0M1552.7 242.7h0M1532.1 233.5h0M1584.3 225.6h0M1543.8 189.3h0M1535.8 240.7h0M1574.7 237.3h0M1597.9 209.2h0M1594.3 188.3h0M1559.5 243.3h0M1591.6 183.5h0M1529.4 232.2h0M1571.4 240.2h0M1594.8 190.6h0M1592.5 209.4h0M1596.7 191.5h0M1555.5 243.3h0M1584.1 177.2h0M1582.1 230.0h0M1545.4 240.4h0M1560.6 242.9h0M1569.6 241.9h0M1599.4 193.9h0M1594.1 208.9h0M1599.7 207.5h0M1572.6 242.9h0M1562.6 182.1h0M1577.0 169.6h0M1561.6 247.3h0M1595.6 206.4h0M1537.4 235.5h0M1598.4 209.8h0M1579.7 232.8h0M1524.2 210.0h0M1530.8 226.2h0M1596.7 190.2h0M1546.0 245.0h0M1583.3 180.2h0M1558.7 178.6h0M1601.6 199.4h0M1596.0 185.6h0M1529.4 239.7h0M1555.0 244.6h0M1593.8 184.0h0M1573.9 237.1h0M1600.1 193.7h0M1590.7 223.0h0M1564.3 182.1h0M1551.6 249.5h0M1571.4 239.5h0M1594.6 187.2h0M1557.3 257.3h0M1594.1 201.5h0M1530.8 224.3h0M1529.1 227.9h0M1550.6 245.4h0M1565.5 242.5h0M1546.4 188.4h0M1592.5 184.7h0M1594.3 190.8h0M1593.5 178.8h0M1595.9 189.3h0M1591.2 181.4h0M1572.4 179.3h0M1595.4 214.2h0M1566.7 240.6h0M1526.6 223.0h0M1595.4 191.6h0M1548.5 188.6h0M1586.6 180.3h0M1529.6 203.0h0M1593.9 210.8h0M1594.1 217.1h0M1597.8 195.9h0M1588.9 178.4h0M1569.8 175.6h0M1542.6 192.3h0M1576.3 236.9h0M1569.1 175.9h0M1525.3 222.6h0M1538.4 195.3h0M1584.0 237.4h0M1525.5 208.0h0M1589.1 178.9h0M1528.6 218.4h0M1591.9 208.9h0M1600.2 205.9h0M1577.9 233.0h0M1555.7 245.0h0M1554.2 248.8h0M1556.9 243.3h0M1593.5 187.3h0M1545.3 246.5h0M1589.8 178.7h0M1603.4 200.2h0M1593.8 201.4h0M1575.3 176.1h0M1553.0 245.9h0M1594.8 197.3h0M1537.8 193.9h0M1592.7 177.3h0M1591.4 181.0h0M1583.2 175.9h0M1528.4 233.6h0M1536.2 237.5h0M1573.3 177.4h0M1572.2 246.6h0M1535.3 235.1h0M1596.6 194.7h0M1601.6 195.9h0M1540.6 194.1h0M1598.5 197.3h0M1578.8 177.5h0M1599.1 202.2h0M1588.7 217.1h0M1596.6 188.6h0M1570.4 178.3h0M1596.5 189.2h0M1571.9 177.3h0M1543.2 192.1h0M1558.5 182.6h0M1593.8 185.8h0M1558.5 246.7h0M1538.5 236.5h0M1564.7 241.9h0M1527.5 220.6h0M1606.8 192.5h0M1565.0 249.7h0M1544.9 245.2h0M1535.6 240.2h0M1528.5 220.6h0M1525.6 212.8h0M1532.0 241.1h0M1545.9 185.8h0M1589.2 218.0h0M1572.5 175.8h0M1525.5 202.0h0M1528.1 207.9h0M1593.7 181.1h0M1533.7 231.6h0M1541.3 241.1h0M1583.1 231.8h0M1592.7 209.5h0M1584.4 179.7h0M1578.7 232.2h0M1592.4 185.4h0M1581.7 230.4h0M1551.9 246.2h0M1529.2 231.9h0M1578.4 177.9h0M1543.9 250.6h0M1592.6 210.1h0M1543.2 243.9h0M1586.0 230.5h0M1584.1 229.7h0M1598.6 193.6h0M1559.8 246.0h0M1599.8 183.4h0M1595.8 206.4h0M1531.4 197.9h0M1573.7 238.1h0M1521.5 221.9h0M1576.8 177.7h0M1535.0 193.2h0M1553.5 181.6h0M1590.9 178.6h0M1599.4 198.9h0M1556.7 184.5h0M1587.0 226.5h0M1563.8 248.4h0M1578.1 179.2h0M1535.7 236.1h0M1538.4 237.4h0M1594.5 200.5h0M1526.6 212.5h0M1536.8 239.8h0M1584.2 225.5h0M1555.5 182.9h0M1560.6 242.8h0M1576.3 238.2h0M1586.2 226.1h0M1590.9 218.3h0M1595.7 194.9h0M1591.4 182.5h0M1593.5 187.4h0M1596.8 197.4h0M1577.9 239.7h0M1573.4 178.3h0M1536.3 239.9h0M1598.1 203.9h0M1597.9 196.6h0M1580.1 236.4h0M1596.2 197.5h0M1593.3 182.7h0M1520.3 234.6h0M1558.6 185.5h0M1600.1 188.8h0M1584.3 230.3h0M1549.5 242.6h0M1595.5 191.7h0M1592.6 182.4h0M1597.2 198.2h0M1592.1 180.5h0M1592.1 218.5h0M1584.5 240.0h0M1594.8 223.2h0M1596.1 209.9h0M1531.1 197.4h0M1585.8 175.9h0M1591.3 210.4h0M1524.5 221.1h0M1558.3 183.3h0M1552.1 252.5h0M1551.3 182.6h0M1532.4 194.9h0M1529.6 209.2h0M1529.1 226.4h0M1543.3 250.1h0M1566.9 247.1h0M1596.8 202.4h0M1555.4 243.6h0M1544.0 189.8h0M1590.9 230.6h0M1529.8 233.2h0M1562.9 243.7h0M1594.4 192.0h0M1588.9 176.1h0M1598.9 197.7h0M1522.2 225.6h0M1547.2 185.3h0M1601.2 182.6h0M1561.5 179.9h0M1535.2 233.4h0M1560.9 180.6h0M1533.3 239.4h0M1576.3 235.7h0M1533.9 200.3h0M1537.6 235.9h0M1581.6 180.2h0M1528.7 232.7h0M1551.6 242.1h0M1541.3 242.5h0M1585.2 222.5h0M1562.5 182.5h0M1575.5 180.8h0M1578.5 176.9h0M1530.7 201.9h0M1524.3 203.9h0M1549.2 189.4h0M1533.1 232.7h0M1522.2 203.1h0M1593.2 209.7h0M1545.4 191.5h0M1596.5 218.7h0M1532.1 198.0h0M1592.6 178.5h0M1550.6 188.5h0M1531.4 201.7h0M1599.2 204.6h0M1594.6 191.8h0M1593.3 215.1h0M1566.6 245.5h0M1575.2 175.7h0M1538.2 239.5h0M1574.5 240.9h0M1536.2 198.4h0M1572.6 180.1h0M1526.8 196.3h0M1559.6 182.5h0M1556.8 184.0h0M1547.7 187.8h0M1584.9 174.8h0M1529.4 205.6h0M1575.0 174.6h0M1591.2 217.1h0M1552.9 187.2h0M1595.7 190.8h0M1562.2 244.3h0M1541.5 240.3h0M1531.1 225.4h0M1592.1 179.0h0M1550.9 242.1h0M1574.6 175.2h0M1574.8 236.5h0M1573.9 238.9h0M1525.4 219.4h0M1560.1 184.1h0M1597.2 181.8h0M1569.2 179.0h0M1548.8 241.5h0M1529.7 235.7h0M1570.8 179.9h0M1531.8 232.8h0M1529.8 222.3h0M1548.1 243.3h0M1537.1 235.1h0M1568.4 242.8h0M1596.4 203.1h0M1541.1 242.0h0M1570.1 176.9h0M1536.2 236.3h0M1585.7 222.5h0M1598.7 185.4h0M1597.2 204.5h0M1568.8 240.1h0M1577.6 180.7h0M1541.9 240.2h0M1578.9 234.8h0M1528.6 226.3h0M1528.8 208.3h0M1584.8 226.0h0M1534.6 199.3h0M1530.1 211.4h0M1606.9 193.6h0M1595.3 201.4h0M1555.6 183.8h0M1547.4 241.2h0M1552.8 249.6h0M1531.8 238.5h0M1573.2 180.6h0M1528.0 219.6h0M1530.0 234.9h0M1590.7 217.5h0M1527.7 242.7h0M1522.3 233.6h0M1530.2 209.0h0M1593.1 184.0h0M1575.4 238.2h0M1578.3 234.6h0M1534.2 233.8h0M1594.1 201.7h0M1545.0 247.2h0M1561.2 243.7h0M1565.7 241.1h0M1528.8 212.0h0M1542.8 239.7h0M1596.2 208.3h0M1529.7 227.4h0M1551.3 245.9h0M1590.1 181.0h0M1557.2 182.7h0M1552.0 247.6h0M1577.9 179.9h0M1547.1 241.0h0M1529.5 220.2h0M1532.9 231.1h0M1593.6 212.6h0M1592.2 209.1h0M1526.7 208.6h0M1547.2 244.6h0M1533.5 196.1h0M1541.5 241.4h0M1530.2 232.9h0M1600.6 197.0h0M1595.9 197.0h0M1536.7 196.1h0M1593.0 178.4h0M1524.1 219.8h0M1579.3 238.7h0M1595.1 190.6h0M1573.5 241.3h0M1578.4 232.7h0M1597.5 185.0h0M1579.9 230.1h0M1574.8 179.0h0M1531.9 240.1h0M1577.3 241.9h0M1572.2 248.8h0M1530.5 200.5h0M1592.8 209.3h0M1573.7 242.1h0M1584.8 239.9h0M1585.7 180.6h0M1579.8 178.4h0M1534.5 238.1h0M1527.4 223.6h0M1543.4 188.8h0M1587.0 226.0h0M1585.8 181.0h0M1590.1 228.9h0M1598.4 204.8h0M1594.5 206.7h0M1525.7 211.4h0M1541.5 190.6h0M1526.5 213.9h0M1572.3 238.5h0M1589.1 180.9h0M1597.8 191.7h0M1593.4 181.2h0M1588.0 179.0h0M1569.3 180.1h0M1564.4 243.5h0M1535.1 190.2h0M1520.1 214.2h0M1580.5 178.3h0M1529.8 219.0h0M1576.5 175.9h0M1585.1 179.7h0M1570.1 246.1h0M1561.2 184.9h0M1540.6 239.2h0M1529.3 223.3h0M1530.2 200.8h0M1595.1 182.5h0M1534.5 239.2h0M1570.5 176.3h0M1547.8 187.1h0M1527.5 194.3h0M1586.6 221.1h0M1531.1 197.9h0M1588.8 219.9h0M1594.2 202.3h0M1589.1 219.9h0M1534.0 236.6h0M1546.6 188.4h0M1579.5 174.6h0M1544.1 188.1h0M1589.1 180.6h0M1541.4 238.3h0M1589.7 180.1h0M1558.4 184.4h0M1528.2 217.2h0M1596.2 193.0h0M1597.0 194.3h0M1594.1 206.7h0M1535.2 238.6h0M1596.1 201.9h0M1575.3 237.1h0M1528.1 219.3h0M1594.0 183.0h0M1562.3 243.4h0M1580.7 179.0h0M1565.9 241.7h0M1593.9 181.5h0M1531.8 196.8h0M1532.6 234.4h0M1536.7 239.1h0M1592.8 212.4h0M1535.1 237.3h0M1573.1 238.3h0M1575.4 180.8h0M1530.6 227.0h0M1532.2 201.9h0M1553.9 186.6h0M1563.0 246.7h0M1588.9 215.8h0M1527.1 210.4h0M1573.9 179.0h0M1559.9 250.4h0M1525.2 217.9h0M1595.6 194.2h0M1521.7 222.6h0M1585.1 179.6h0M1535.5 199.6h0M1582.0 172.2h0M1527.9 225.8h0M1528.7 221.5h0M1603.2 185.3h0M1559.8 184.1h0M1527.8 201.2h0M1563.8 244.9h0M1529.4 228.4h0M1576.9 234.6h0M1593.4 181.8h0M1585.0 222.9h0M1586.4 180.9h0M1596.0 188.3h0M1530.7 227.6h0M1538.9 241.0h0M1579.8 236.1h0M1550.6 242.4h0M1531.8 231.3h0M1565.6 243.1h0M1538.9 238.2h0M1548.9 243.5h0M1528.7 222.9h0M1562.2 243.8h0M1588.9 218.0h0M1570.3 177.6h0M1557.8 183.7h0M1566.8 245.4h0M1574.6 237.7h0M1547.8 183.9h0M1579.9 176.1h0M1567.4 181.8h0M1534.2 239.4h0M1567.9 240.4h0M1579.5 232.3h0M1551.8 243.5h0M1575.1 235.6h0M1571.9 249.3h0M1584.2 225.0h0M1564.4 176.5h0M1554.4 244.1h0M1589.0 221.7h0M1598.8 190.0h0M1580.2 231.6h0M1579.0 177.4h0M1528.8 214.4h0M1531.6 230.5h0M1555.3 186.8h0M1563.8 243.2h0M1592.5 185.5h0M1577.0 243.1h0M1601.2 187.6h0M1531.7 233.9h0M1593.0 185.1h0M1594.5 187.7h0M1590.2 180.2h0M1591.5 210.4h0M1566.4 242.4h0M1523.4 219.0h0M1579.0 177.9h0M1573.1 177.6h0M1530.0 195.2h0M1573.6 177.5h0M1587.1 222.0h0M1590.0 183.2h0M1557.4 244.3h0M1595.5 180.0h0M1544.7 190.5h0M1565.3 244.1h0M1544.6 190.0h0M1540.7 241.4h0M1555.6 246.2h0M1591.8 183.2h0M1565.7 179.9h0M1537.8 238.4h0M1597.0 185.3h0M1557.1 186.4h0M1524.1 222.4h0M1539.9 194.3h0M1589.3 214.7h0M1587.7 180.6h0M1538.6 238.7h0M1589.4 218.2h0M1570.0 241.9h0M1527.1 203.7h0M1589.9 182.4h0M1527.0 229.5h0M1562.4 246.0h0M1532.7 193.5h0M1584.2 179.5h0M1529.1 206.9h0M1534.5 195.7h0M1553.2 186.1h0M1546.2 240.6h0M1585.5 226.7h0M1526.9 222.5h0M1554.4 249.0h0M1603.1 200.9h0M1560.7 178.3h0M1532.1 229.8h0M1593.7 204.8h0M1532.6 198.6h0M1582.8 232.1h0M1543.2 239.6h0M1576.8 240.6h0M1595.5 187.3h0M1528.1 218.2h0M1571.0 239.9h0M1538.0 194.3h0M1596.0 183.7h0M1552.3 243.8h0M1536.9 197.9h0M1557.3 242.3h0M1571.2 249.4h0M1564.1 246.3h0M1532.0 195.3h0M1561.8 181.0h0M1588.6 217.0h0M1570.2 180.7h0M1584.2 231.5h0M1588.0 226.1h0M1561.0 244.8h0M1540.5 238.1h0M1527.6 197.5h0M1540.4 194.5h0M1541.5 189.6h0M1530.3 228.4h0M1586.1 222.0h0M1591.8 184.0h0M1523.8 225.6h0M1592.5 218.4h0M1583.0 229.9h0M1562.2 243.2h0M1590.5 225.2h0M1599.4 192.4h0M1542.6 192.6h0M1524.6 227.0h0M1579.7 236.6h0M1535.9 195.9h0M1588.4 177.7h0M1594.9 190.6h0M1558.1 242.3h0M1546.8 190.7h0M1526.2 228.6h0M1564.6 183.2h0M1577.0 178.3h0M1575.0 179.4h0M1598.0 189.6h0M1527.5 206.9h0M1599.0 185.5h0M1576.7 179.5h0M1590.5 213.8h0M1549.5 246.9h0M1533.4 235.4h0M1524.6 211.3h0M1523.3 214.2h0M1526.8 227.1h0M1595.4 185.5h0M1591.2 212.8h0M1527.3 220.7h0M1541.6 243.9h0M1585.2 181.1h0M1551.4 242.6h0M1576.9 179.8h0M1524.8 222.3h0M1532.9 198.7h0M1545.7 186.7h0M1591.7 172.2h0M1556.2 245.9h0M1594.9 199.8h0M1594.1 222.9h0M1565.0 247.1h0M1540.1 192.7h0M1571.6 176.2h0M1537.3 240.1h0M1547.3 247.2h0M1539.7 194.5h0M1592.7 177.9h0M1596.8 190.8h0M1567.2 245.8h0M1529.9 229.7h0M1566.9 179.6h0M1568.6 182.0h0M1532.6 230.3h0M1529.3 205.7h0M1575.9 174.5h0M1546.8 245.2h0M1597.6 210.1h0M1592.6 206.9h0M1534.0 231.6h0M1596.2 193.0h0M1523.1 200.3h0M1593.6 208.0h0M1543.6 189.1h0M1588.5 181.5h0M1577.8 235.8h0M1599.8 195.4h0M1595.1 209.0h0M1565.0 245.2h0M1548.0 243.1h0M1572.6 177.0h0M1566.1 181.9h0M1542.9 191.7h0M1597.5 213.6h0M1536.2 234.2h0M1566.2 243.2h0M1596.9 185.9h0M1579.8 231.8h0M1595.2 211.4h0M1553.2 244.8h0M1587.9 175.1h0M1590.8 183.6h0M1596.0 187.1h0M1541.2 238.2h0M1529.0 216.0h0M1572.1 241.6h0M1585.6 221.9h0M1575.1 236.3h0M1529.8 207.7h0M1528.9 210.3h0M1595.6 202.9h0M1530.2 221.8h0M1570.5 179.5h0M1598.4 199.6h0M1543.4 240.7h0M1581.8 231.4h0M1572.8 179.9h0M1545.7 242.5h0M1599.6 194.5h0M1594.6 208.3h0M1538.1 237.1h0M1592.6 182.0h0M1591.1 180.5h0M1597.7 198.2h0M1593.8 185.3h0M1526.2 211.7h0M1565.9 243.4h0M1530.3 203.0h0M1580.6 174.8h0M1581.2 179.1h0M1597.5 219.0h0M1548.3 246.5h0M1536.1 250.3h0M1598.8 188.8h0M1554.6 187.1h0M1543.6 242.3h0M1597.6 210.6h0M1562.3 183.2h0M1536.0 234.1h0M1530.4 232.5h0M1586.3 228.3h0M1544.3 187.1h0M1555.5 243.5h0M1579.6 233.4h0M1528.0 209.9h0M1528.2 216.6h0M1526.3 209.6h0M1587.8 181.7h0M1569.7 181.0h0M1570.0 243.2h0M1535.6 233.3h0M1591.9 184.0h0M1559.1 243.4h0M1528.5 222.0h0M1546.7 184.1h0M1565.6 245.5h0M1588.8 181.5h0M1578.2 233.0h0M1526.4 212.6h0M1585.9 224.6h0M1592.6 208.1h0M1585.3 176.4h0M1527.2 205.5h0M1583.8 227.9h0M1582.2 177.3h0M1593.5 211.2h0M1524.6 211.5h0M1587.9 174.5h0M1595.3 190.2h0M1588.1 177.6h0M1586.8 224.2h0M1592.5 211.7h0M1575.8 241.7h0M1543.4 191.2h0M1597.8 191.2h0M1527.4 229.2h0M1531.9 202.0h0M1581.6 235.7h0M1553.4 186.2h0M1547.0 240.7h0M1585.8 181.2h0M1590.9 174.1h0M1595.2 203.7h0M1530.5 225.0h0M1540.8 239.3h0M1548.2 244.5h0M1529.4 214.9h0M1596.0 183.7h0M1573.6 179.7h0M1566.7 182.4h0M1560.7 245.0h0M1592.8 177.0h0M1576.4 180.9h0M1568.6 174.6h0M1556.6 185.4h0M1584.4 224.9h0M1554.2 186.0h0M1529.8 203.8h0M1592.1 212.9h0M1584.5 178.8h0M1589.0 182.6h0M1531.8 202.8h0M1593.3 186.4h0M1573.4 173.4h0M1563.1 247.4h0M1531.2 201.2h0M1594.5 200.8h0M1572.6 176.6h0M1595.4 189.6h0M1583.5 226.6h0M1540.2 244.9h0M1601.1 204.8h0M1526.6 218.5h0M1537.3 239.9h0M1535.7 238.1h0M1527.5 216.1h0M1585.6 177.5h0M1531.0 205.8h0M1527.8 217.5h0M1588.5 181.6h0M1592.3 210.1h0M1570.6 241.9h0M1574.5 239.8h0M1563.8 182.7h0M1529.2 202.7h0M1529.0 226.5h0M1582.7 234.2h0M1525.0 223.0h0M1573.7 173.5h0M1576.0 235.5h0M1522.7 202.7h0M1526.1 216.2h0M1557.1 251.8h0M1528.0 211.1h0M1569.3 241.4h0M1524.5 211.6h0M1590.0 214.9h0M1543.2 239.6h0M1535.5 189.0h0M1585.1 178.6h0M1581.9 175.4h0M1597.3 200.9h0M1558.4 181.5h0M1585.6 180.3h0M1561.8 247.5h0M1527.5 218.0h0M1579.6 177.9h0M1595.5 179.6h0M1553.0 186.3h0M1591.6 181.8h0M1567.2 179.3h0M1555.5 244.1h0M1559.0 179.3h0M1590.2 179.3h0M1570.1 240.0h0M1583.5 230.1h0M1575.1 235.7h0M1527.6 211.5h0M1548.3 242.8h0M1590.0 235.0h0M1581.3 231.5h0M1572.5 239.5h0M1533.7 234.9h0M1595.4 182.1h0M1526.5 214.7h0M1523.4 225.0h0M1537.6 240.2h0M1547.0 246.3h0M1565.0 179.1h0M1581.0 238.8h0M1581.2 176.0h0M1589.6 222.7h0M1595.1 208.2h0M1566.7 180.8h0M1591.6 227.3h0M1555.2 184.5h0M1565.6 178.6h0M1582.8 227.9h0M1540.3 185.5h0M1570.5 242.6h0M1595.7 194.6h0M1583.5 179.4h0M1592.8 209.8h0M1546.6 180.7h0M1598.4 205.3h0M1538.3 238.8h0M1579.8 241.8h0M1570.8 240.3h0M1562.3 181.9h0M1525.5 202.2h0M1532.4 201.4h0M1593.2 184.9h0M1550.9 244.3h0M1603.2 196.8h0M1598.3 190.3h0M1596.3 196.4h0M1536.6 189.5h0M1594.2 186.8h0M1544.6 242.4h0M1529.3 222.2h0M1588.3 228.6h0M1608.5 188.5h0M1567.2 181.4h0M1591.1 183.4h0M1552.1 179.9h0M1536.8 238.3h0M1527.2 224.6h0M1589.4 219.0h0M1595.4 201.5h0M1602.6 199.5h0M1545.1 190.7h0M1574.1 239.4h0M1597.4 196.2h0M1529.5 210.9h0M1570.7 244.3h0M1535.1 234.7h0M1581.0 231.3h0M1596.4 191.7h0M1571.1 243.0h0M1598.4 185.0h0M1591.5 219.9h0M1527.8 219.9h0M1555.7 244.0h0M1556.2 185.8h0M1568.4 179.6h0M1590.5 218.7h0M1585.2 178.8h0M1549.3 243.6h0M1528.9 216.8h0M1585.5 180.6h0M1549.6 245.9h0M1535.6 238.9h0M1591.0 181.0h0M1581.8 227.7h0M1574.3 237.1h0M1558.0 185.0h0M1588.6 182.1h0M1529.9 204.1h0M1596.8 197.1h0M1544.1 192.3h0M1586.8 175.8h0M1526.8 211.6h0M1523.5 212.2h0M1546.5 190.5h0M1545.1 189.7h0M1539.3 186.1h0M1597.6 189.6h0M1545.4 185.3h0M1599.1 198.2h0M1529.5 197.6h0M1594.1 185.2h0M1535.1 233.2h0M1533.5 198.9h0M1538.1 186.8h0M1524.1 215.6h0M1526.6 228.3h0M1529.5 227.6h0M1527.5 232.1h0M1579.1 236.5h0M1592.8 208.6h0M1553.4 183.9h0M1536.9 196.5h0M1528.3 217.1h0M1598.7 192.1h0M1530.0 200.0h0M1585.9 178.2h0M1597.6 205.8h0M1529.2 233.4h0M1532.5 196.2h0M1534.7 234.5h0M1536.8 237.0h0M1522.4 218.1h0M1563.2 183.0h0M1562.9 182.7h0M1595.2 186.1h0M1591.1 183.4h0M1599.4 180.5h0M1598.2 210.9h0M1574.3 237.1h0M1547.4 240.8h0M1522.1 210.5h0M1529.5 206.2h0M1594.4 204.7h0M1596.4 183.0h0M1554.8 180.9h0M1562.6 176.8h0M1548.8 186.7h0M1580.5 232.1h0M1529.4 222.0h0M1536.1 196.6h0M1567.7 177.7h0M1596.2 192.1h0M1597.9 184.6h0M1585.9 177.8h0M1534.3 242.2h0M1538.0 195.8h0M1588.5 218.8h0M1562.9 181.2h0M1585.6 180.1h0M1565.0 243.4h0M1548.0 248.3h0M1586.8 179.0h0M1549.6 187.0h0M1588.8 218.0h0M1573.4 179.5h0M1589.2 178.2h0M1579.7 173.8h0M1594.8 188.0h0M1569.2 177.5h0M1594.1 185.1h0M1573.5 179.5h0M1573.6 243.5h0M1554.8 242.9h0M1577.5 234.9h0M1593.4 217.9h0M1588.8 220.0h0M1574.6 237.4h0M1584.5 227.1h0M1574.3 243.1h0M1570.0 181.1h0M1587.3 179.3h0M1596.2 194.9h0M1523.9 218.4h0M1592.0 223.2h0M1539.9 193.7h0M1522.4 209.9h0M1578.9 237.2h0M1595.7 191.3h0M1587.2 180.1h0M1524.4 200.8h0M1588.0 221.3h0M1525.2 226.0h0M1566.7 241.1h0M1539.7 244.1h0M1595.6 204.4h0M1565.3 241.2h0M1562.5 178.8h0M1537.9 193.2h0M1573.3 238.9h0M1558.6 181.1h0M1522.5 219.8h0M1531.5 230.8h0M1588.3 225.9h0M1553.0 243.9h0M1571.4 180.8h0M1567.9 178.3h0M1594.8 212.5h0M1563.9 247.5h0M1566.1 181.4h0M1589.9 214.0h0M1571.4 243.8h0M1524.9 223.4h0M1585.0 179.6h0M1542.0 192.6h0M1585.7 181.5h0M1564.9 245.2h0M1545.1 182.4h0M1592.6 224.0h0M1578.5 240.9h0M1575.0 172.8h0M1575.4 176.9h0M1552.2 246.7h0M1555.6 182.7h0M1544.4 243.5h0M1592.9 176.9h0M1581.3 235.3h0M1594.7 189.9h0M1592.7 207.0h0M1561.7 245.6h0M1562.0 246.7h0M1577.6 234.9h0M1535.1 196.7h0M1529.9 209.0h0M1562.7 250.0h0M1587.9 176.0h0M1547.0 186.1h0M1529.1 205.2h0M1547.6 244.0h0M1541.6 192.2h0M1548.4 188.6h0M1531.4 234.1h0M1524.8 213.4h0M1522.0 201.9h0M1598.3 179.3h0M1600.5 198.4h0M1586.2 221.0h0M1598.6 197.4h0M1587.5 178.1h0M1543.6 185.8h0M1536.1 198.5h0M1549.4 187.3h0M1570.1 241.4h0M1597.8 198.1h0M1585.8 244.0h0M1572.9 245.7h0M1540.0 245.8h0M1581.3 179.8h0M1534.5 235.0h0M1556.1 243.3h0M1558.9 251.1h0M1560.0 245.8h0M1595.0 190.0h0M1527.1 214.6h0M1595.0 209.1h0M1527.2 197.7h0M1573.9 238.2h0M1596.0 214.7h0M1528.9 194.5h0M1539.1 190.9h0M1591.6 179.6h0M1566.7 181.9h0M1598.0 181.3h0M1596.6 205.7h0M1599.5 193.6h0M1593.4 183.5h0M1591.8 184.2h0M1598.1 187.9h0M1582.1 232.2h0M1535.7 197.9h0M1538.7 191.5h0M1587.9 182.3h0M1585.3 227.1h0M1572.1 181.3h0M1528.8 219.8h0M1595.3 190.9h0M1600.1 194.1h0M1530.5 208.1h0M1551.0 242.3h0M1592.6 179.0h0M1527.2 219.6h0M1529.6 203.7h0M1598.5 195.9h0M1547.4 245.9h0M1599.0 202.7h0M1529.7 226.8h0M1593.7 202.4h0M1541.9 244.5h0M1527.5 207.6h0M1550.7 244.3h0M1575.6 235.4h0M1592.7 181.2h0M1587.5 177.7h0M1558.8 184.5h0M1586.5 233.2h0M1576.3 236.1h0M1540.4 193.3h0M1567.5 244.3h0M1568.3 180.4h0M1569.8 174.6h0M1567.7 245.3h0M1585.9 179.8h0M1549.8 243.3h0M1599.6 190.6h0M1529.6 202.1h0M1537.3 190.7h0M1586.4 175.7h0M1567.3 242.3h0M1594.6 198.4h0M1563.7 182.3h0M1545.6 183.7h0M1553.3 177.0h0M1547.0 244.3h0M1550.5 241.8h0M1530.3 226.0h0M1536.2 235.7h0M1548.5 241.7h0M1534.1 240.6h0M1585.8 230.0h0M1534.5 199.7h0M1595.7 205.1h0M1596.6 204.3h0M1572.3 172.8h0M1554.9 180.7h0M1570.7 173.7h0M1527.0 218.6h0M1564.5 242.0h0M1585.8 177.0h0M1537.8 236.1h0M1550.0 241.9h0M1521.7 217.9h0M1529.7 221.0h0M1599.4 190.4h0M1526.3 211.6h0M1527.0 223.8h0M1534.2 196.9h0M1542.0 185.7h0M1569.9 239.4h0M1556.4 244.5h0M1589.6 180.6h0M1528.9 211.9h0M1533.2 233.2h0M1591.7 179.0h0M1535.7 187.8h0M1593.7 180.8h0M1561.2 244.8h0M1596.2 195.7h0M1562.7 248.8h0M1576.7 180.5h0M1535.9 235.4h0M1525.9 211.9h0M1565.4 242.4h0M1567.8 242.9h0M1528.1 203.1h0M1535.6 195.8h0M1579.7 172.5h0M1542.5 241.5h0M1556.6 186.5h0M1598.0 187.3h0M1546.8 190.6h0M1595.3 183.1h0M1584.2 228.0h0M1574.1 243.0h0M1594.3 206.3h0M1596.9 200.6h0M1593.4 216.1h0M1596.0 195.3h0M1530.7 226.0h0M1587.3 176.3h0M1587.5 175.5h0M1526.2 216.1h0M1592.4 183.7h0M1597.2 196.1h0M1523.4 223.3h0M1544.9 191.3h0M1529.8 202.6h0M1593.4 188.4h0M1547.7 184.8h0M1530.1 203.6h0M1569.1 240.1h0M1548.4 186.2h0M1591.6 214.9h0M1563.5 182.4h0M1579.2 236.3h0M1588.0 224.6h0M1563.4 247.1h0M1534.0 238.4h0M1537.1 235.9h0M1546.0 241.5h0M1596.0 195.5h0M1588.0 179.4h0M1566.0 180.1h0M1591.7 177.5h0M1587.5 181.7h0M1590.5 179.5h0M1580.2 230.2h0M1560.5 179.6h0M1531.3 229.0h0M1584.7 223.9h0M1592.7 218.5h0M1530.7 203.9h0M1560.7 181.4h0M1589.9 216.0h0M1590.4 181.8h0M1574.6 180.2h0M1527.6 234.4h0M1548.5 242.8h0M1593.8 215.8h0M1550.2 187.5h0M1566.7 241.6h0M1576.8 238.3h0M1530.6 198.3h0M1583.2 226.7h0M1544.9 241.2h0M1592.4 211.7h0M1589.5 178.9h0M1559.3 184.9h0M1594.8 200.3h0M1589.7 213.9h0M1586.8 178.4h0M1565.4 241.4h0M1590.7 182.5h0M1529.3 209.3h0M1574.9 242.0h0M1597.1 211.5h0M1533.6 197.7h0M1526.8 202.6h0M1573.7 179.3h0M1541.4 188.0h0M1539.6 238.2h0M1544.0 188.9h0M1596.7 192.6h0M1595.2 187.9h0M1582.6 246.1h0M1529.4 202.9h0M1534.8 236.7h0M1555.6 245.4h0M1561.2 183.5h0M1592.2 182.7h0M1582.7 233.7h0M1548.2 181.8h0M1566.2 182.5h0M1575.1 237.9h0M1569.4 239.9h0M1578.9 233.8h0M1570.7 240.4h0M1596.0 207.4h0M1528.9 236.8h0M1592.8 183.4h0M1527.0 213.4h0M1552.1 243.7h0M1594.8 180.6h0M1547.1 242.3h0M1567.1 240.4h0M1545.3 191.8h0M1584.0 232.6h0M1568.3 245.8h0M1556.0 180.6h0M1596.6 190.6h0M1524.2 212.3h0M1527.3 211.9h0M1596.0 197.5h0M1576.4 177.8h0M1549.9 245.8h0M1574.4 240.5h0M1569.0 181.2h0M1552.2 244.6h0M1550.8 187.2h0M1590.2 182.6h0M1604.3 197.3h0M1528.5 205.6h0M1525.0 233.0h0M1598.9 181.3h0M1543.5 188.0h0M1570.1 242.4h0M1595.2 197.7h0M1575.3 176.7h0M1532.9 200.1h0M1589.0 215.7h0M1542.7 242.5h0M1594.1 209.8h0M1535.6 236.4h0M1594.5 203.4h0M1538.8 188.3h0M1574.4 240.8h0M1593.4 181.3h0M1592.4 215.3h0M1582.9 178.2h0M1598.0 191.9h0M1553.3 242.2h0M1544.7 190.8h0M1592.0 230.0h0M1594.4 202.3h0M1547.0 242.1h0M1533.5 232.1h0M1535.5 241.5h0M1535.9 235.1h0M1588.9 216.5h0M1593.4 188.1h0M1587.9 181.9h0M1571.1 178.9h0M1575.2 178.0h0M1599.4 184.0h0M1560.4 182.6h0M1587.7 179.2h0M1534.7 232.7h0M1544.0 190.2h0M1573.7 243.7h0M1595.4 186.4h0M1552.0 182.1h0M1551.5 181.9h0M1524.5 223.2h0M1531.1 203.7h0M1575.3 241.5h0M1557.4 244.2h0M1531.6 230.8h0M1594.7 201.1h0M1598.0 208.4h0M1579.8 177.8h0M1599.4 194.3h0M1523.8 213.5h0M1576.0 244.7h0M1587.0 223.1h0M1529.2 219.8h0M1523.7 215.5h0M1543.9 239.9h0M1524.2 208.4h0M1600.9 199.6h0M1530.3 206.7h0M1585.6 224.0h0M1597.2 211.6h0M1547.6 249.3h0M1556.1 183.8h0M1586.5 174.8h0M1529.0 224.3h0M1582.8 178.7h0M1561.5 180.0h0M1581.0 180.6h0M1529.0 199.8h0M1598.3 197.4h0M1583.2 174.7h0M1537.8 189.9h0M1545.9 243.5h0M1525.6 200.7h0M1569.2 248.9h0M1526.3 223.8h0M1560.5 247.9h0M1536.4 190.4h0M1521.4 220.3h0M1581.1 178.4h0M1569.4 179.5h0M1556.4 183.2h0M1592.1 178.8h0M1583.4 178.3h0M1527.6 204.9h0M1548.0 243.9h0M1592.8 182.8h0M1598.2 183.0h0M1560.9 175.7h0M1580.7 179.5h0M1591.3 176.7h0M1585.7 225.8h0M1590.2 180.9h0M1578.0 232.5h0M1567.0 242.6h0M1584.9 176.6h0M1525.8 221.7h0M1537.8 194.3h0M1575.9 179.7h0M1579.6 239.4h0M1534.2 239.0h0M1533.7 243.2h0M1549.2 246.4h0M1573.2 241.5h0M1549.8 189.0h0M1589.4 182.2h0M1574.9 179.4h0M1559.2 182.4h0M1529.3 208.5h0M1526.5 217.3h0M1522.2 208.4h0M1573.6 236.9h0M1552.1 182.8h0M1547.9 185.7h0M1559.7 246.4h0M1536.2 193.7h0M1525.0 224.3h0M1586.0 176.2h0M1563.5 181.5h0M1551.0 188.3h0M1526.3 221.1h0M1596.9 181.7h0M1577.8 234.6h0M1531.3 233.5h0M1587.8 180.3h0M1598.1 187.7h0M1575.0 179.8h0M1542.7 191.3h0M1595.3 195.8h0M1542.3 240.6h0M1593.2 216.1h0M1537.7 241.3h0M1530.5 229.8h0M1578.8 179.8h0M1541.5 245.2h0M1544.9 188.6h0M1571.2 241.4h0M1571.2 238.8h0M1597.2 202.7h0M1548.5 188.8h0M1537.4 241.3h0M1549.5 189.7h0M1596.3 187.7h0M1581.2 231.7h0M1564.5 245.0h0M1575.0 172.7h0M1594.1 184.3h0M1533.3 199.4h0M1582.3 179.7h0M1536.9 234.8h0M1527.2 233.6h0M1596.7 189.8h0M1591.0 182.9h0M1583.3 226.5h0M1570.9 175.6h0M1558.6 243.9h0M1536.4 238.3h0M1594.4 184.9h0M1592.7 185.9h0M1526.9 201.8h0M1541.6 240.9h0M1561.8 177.8h0M1560.1 245.0h0M1589.1 178.8h0M1571.0 174.4h0M1600.8 195.7h0M1582.8 226.8h0M1583.3 233.5h0M1531.8 198.2h0M1540.8 242.6h0M1580.0 179.9h0M1569.6 180.1h0M1592.5 181.5h0M1548.3 242.5h0M1596.5 199.9h0M1541.2 191.2h0M1585.7 223.6h0M1593.9 187.8h0M1555.9 245.4h0M1589.6 214.9h0M1596.9 180.5h0M1547.7 249.0h0M1528.1 208.9h0M1560.5 243.1h0M1583.2 229.6h0M1582.1 178.4h0M1594.1 203.9h0M1564.2 242.3h0M1557.0 243.7h0M1566.7 241.0h0M1581.5 232.8h0M1565.6 241.9h0M1526.1 230.3h0M1568.3 244.5h0M1535.8 236.5h0M1540.1 241.5h0M1559.9 183.0h0M1593.5 186.2h0M1524.9 218.8h0M1595.9 205.2h0M1532.5 200.0h0M1530.2 229.0h0M1585.7 224.5h0M1525.5 218.8h0M1554.7 185.5h0M1538.2 236.9h0M1551.8 245.1h0M1560.4 247.7h0M1586.3 225.2h0M1561.3 179.2h0M1525.1 212.9h0M1596.0 197.3h0M1539.7 241.8h0M1571.4 177.8h0M1574.4 176.5h0M1570.7 242.8h0M1535.9 234.5h0M1558.3 248.4h0M1525.6 226.8h0M1524.2 224.6h0M1594.0 187.9h0M1528.0 226.8h0M1595.3 188.5h0M1572.2 245.3h0M1592.8 216.2h0M1540.4 243.1h0M1541.1 187.5h0M1595.9 212.0h0M1587.2 170.5h0M1540.8 184.7h0M1532.9 233.8h0M1584.7 233.9h0M1526.0 225.2h0M1585.0 178.4h0M1558.1 244.1h0M1545.2 240.4h0M1529.9 210.2h0M1525.6 227.5h0M1528.4 204.3h0M1547.7 190.3h0M1590.6 214.8h0M1576.5 236.4h0M1574.8 235.8h0M1537.1 235.1h0M1586.8 221.2h0M1530.8 205.9h0M1552.6 187.3h0M1537.6 237.5h0M1567.5 241.0h0M1529.2 208.5h0M1529.2 220.8h0M1529.4 200.7h0M1527.7 220.7h0M1532.0 238.9h0M1595.2 192.3h0M1548.2 190.1h0M1550.6 187.1h0M1596.6 191.2h0M1579.7 180.2h0M1532.7 230.7h0M1580.5 179.0h0M1592.6 180.2h0M1597.4 206.5h0M1581.7 178.5h0M1573.0 180.4h0M1555.8 181.2h0M1556.8 184.8h0M1590.0 227.6h0M1594.8 208.8h0M1547.2 190.7h0M1578.8 174.6h0M1548.1 243.8h0M1576.5 248.6h0M1534.3 234.0h0M1538.6 239.2h0M1580.5 233.5h0M1577.7 233.2h0M1596.0 208.9h0M1555.8 244.2h0M1592.9 209.3h0M1582.0 233.3h0M1529.2 192.4h0M1591.0 214.0h0M1584.6 224.1h0M1525.8 236.3h0M1562.8 246.9h0M1578.2 180.8h0M1587.8 220.9h0M1525.9 220.0h0M1592.7 172.7h0M1578.5 236.9h0M1548.6 187.0h0M1533.1 237.9h0M1538.6 243.1h0M1546.3 243.4h0M1568.9 239.9h0M1529.9 222.4h0M1524.4 213.9h0M1551.0 188.4h0M1522.8 225.0h0M1534.9 234.9h0M1535.7 235.1h0M1533.7 193.4h0M1551.1 247.1h0M1535.8 233.7h0M1581.5 177.4h0M1599.5 207.8h0M1582.7 237.1h0M1538.4 194.8h0M1592.7 209.2h0M1595.1 186.8h0M1594.8 184.8h0M1576.2 238.4h0M1553.0 243.7h0M1593.7 213.7h0M1589.1 214.9h0M1595.3 192.7h0M1529.1 213.4h0M1546.0 246.4h0M1594.5 201.9h0M1584.3 177.5h0M1555.4 244.6h0M1531.0 227.3h0M1594.3 205.5h0M1598.1 196.9h0M1545.6 243.1h0M1532.1 202.5h0M1569.3 242.3h0M1555.2 251.4h0M1599.6 206.1h0M1585.6 229.9h0M1592.7 207.7h0M1558.7 246.5h0M1530.4 200.4h0M1590.7 180.9h0M1594.2 184.7h0M1526.6 233.0h0M1540.9 189.7h0M1561.4 247.5h0M1546.1 191.3h0M1534.2 235.3h0M1584.8 178.9h0M1595.6 206.9h0M1520.7 220.9h0M1534.8 235.0h0M1534.7 236.5h0M1599.2 195.0h0M1551.9 186.4h0M1537.3 236.6h0M1581.7 235.4h0M1572.8 181.4h0M1582.3 226.8h0M1529.8 204.9h0M1528.0 234.3h0M1571.2 181.1h0M1546.8 240.6h0M1559.5 178.5h0M1589.2 217.5h0M1577.4 180.7h0M1552.9 181.6h0M1525.0 208.2h0M1575.6 242.2h0M1572.8 177.1h0M1538.5 241.4h0M1594.9 189.3h0M1580.7 178.6h0M1555.8 250.6h0M1534.0 196.8h0M1593.4 211.7h0M1531.5 232.9h0M1573.3 245.9h0M1592.1 217.0h0M1592.2 212.9h0M1542.0 241.1h0M1545.0 190.7h0M1551.6 250.1h0M1557.7 247.6h0M1558.1 245.0h0M1581.8 230.6h0M1528.7 220.2h0M1572.2 177.9h0M1565.2 247.8h0M1571.2 179.3h0M1583.7 229.2h0M1534.6 234.3h0M1559.4 183.7h0M1531.6 203.0h0M1526.7 220.4h0M1574.3 179.4h0M1600.2 203.9h0M1562.9 244.0h0M1536.5 234.8h0M1589.7 222.2h0M1563.6 183.9h0M1578.1 180.7h0M1526.1 217.1h0M1529.7 222.5h0M1574.7 237.7h0M1575.6 178.3h0M1574.1 179.5h0M1562.7 247.3h0M1554.9 244.0h0M1528.1 200.2h0M1535.3 241.3h0M1528.6 213.4h0M1525.5 216.9h0M1521.1 211.5h0M1591.5 210.5h0M1593.9 209.2h0M1593.3 205.3h0M1541.3 238.5h0M1581.5 178.7h0M1594.2 225.3h0M1536.3 241.5h0M1564.2 242.5h0M1565.1 243.9h0M1546.5 246.6h0M1536.6 234.5h0M1542.0 191.5h0M1581.4 235.3h0M1528.4 209.4h0M1547.0 247.3h0M1560.8 243.2h0M1595.6 194.9h0M1538.4 237.0h0M1574.3 178.0h0M1535.6 199.5h0M1577.0 238.5h0M1590.3 220.5h0M1545.8 240.3h0M1530.6 227.9h0M1588.2 228.8h0M1580.2 237.4h0M1588.7 217.6h0M1595.8 197.0h0M1584.7 225.6h0M1593.6 208.6h0M1535.4 234.8h0M1594.1 203.1h0M1550.3 184.1h0M1580.4 234.1h0M1531.8 234.8h0M1524.3 210.5h0M1571.7 238.4h0M1563.9 178.0h0M1554.7 248.1h0M1588.2 217.8h0M1580.5 236.0h0M1596.5 212.5h0M1581.9 236.4h0M1599.3 183.8h0M1583.6 227.7h0M1594.2 202.5h0M1536.7 189.9h0M1538.5 238.0h0M1564.1 182.5h0M1553.2 242.3h0M1527.4 220.6h0M1544.0 244.0h0M1570.1 241.1h0M1543.9 246.8h0M1587.6 223.4h0M1593.1 206.4h0M1575.3 239.1h0M1553.1 185.4h0M1544.3 245.2h0M1542.7 192.1h0M1592.6 212.7h0M1557.1 184.8h0M1565.7 242.4h0M1586.0 176.7h0M1575.0 175.4h0M1580.1 236.0h0M1600.0 195.1h0M1522.1 209.3h0M1537.5 237.3h0M1547.4 249.1h0M1592.8 186.3h0M1573.2 239.4h0M1567.3 240.4h0M1524.5 224.6h0M1587.9 180.2h0M1579.1 231.5h0M1592.2 210.7h0M1595.0 191.3h0M1595.7 195.8h0M1558.2 184.3h0M1527.0 206.4h0M1540.2 240.9h0M1527.8 226.8h0M1601.0 205.1h0M1528.0 234.5h0M1528.0 207.1h0M1597.5 219.6h0M1527.0 217.3h0M1584.5 175.6h0M1569.8 243.2h0M1545.0 240.1h0M1557.4 248.5h0M1596.1 190.8h0M1576.0 234.9h0M1524.7 221.3h0M1580.6 231.2h0M1569.9 179.9h0M1538.8 241.9h0M1588.2 217.0h0M1584.6 230.7h0M1568.3 241.0h0M1530.5 204.3h0M1533.9 200.9h0M1539.4 244.9h0M1596.1 206.5h0M1527.5 225.7h0M1579.8 177.9h0M1587.2 176.6h0M1524.4 222.1h0M1589.1 214.8h0M1532.3 234.2h0M1596.5 198.3h0M1575.5 235.9h0M1541.6 240.2h0M1583.2 231.2h0M1531.6 232.9h0M1528.5 217.8h0M1524.8 224.9h0M1585.5 177.0h0M1558.4 245.7h0M1567.1 179.4h0M1561.6 182.4h0M1564.3 249.0h0M1522.7 227.4h0M1565.9 245.5h0M1535.4 234.8h0M1528.5 229.0h0M1592.7 184.7h0M1524.9 209.9h0M1598.9 194.4h0M1544.4 242.8h0M1567.0 182.1h0M1542.0 189.0h0M1589.2 181.2h0M1575.2 245.1h0M1589.8 223.7h0M1564.2 246.6h0M1596.3 185.6h0M1585.3 234.8h0M1598.2 197.4h0M1593.7 207.0h0M1564.6 242.7h0M1558.3 242.6h0M1579.3 234.6h0M1552.0 187.5h0M1529.0 225.5h0M1591.6 180.0h0M1588.6 182.0h0M1551.2 184.8h0M1539.4 195.0h0M1586.7 177.1h0M1569.9 181.6h0M1529.3 218.9h0M1548.2 244.5h0M1580.3 232.8h0M1577.5 233.6h0M1530.4 224.1h0M1568.0 181.5h0M1532.7 241.8h0M1594.5 185.7h0M1594.4 183.2h0M1584.6 226.1h0M1574.6 237.5h0M1536.8 238.3h0M1536.8 194.4h0M1589.4 220.9h0M1529.5 230.2h0M1582.0 179.4h0M1577.5 177.7h0M1574.0 238.0h0M1526.3 232.4h0M1572.0 240.8h0M1530.3 225.9h0M1581.8 235.0h0M1537.4 194.0h0M1539.1 238.9h0M1539.5 192.1h0M1533.9 232.9h0M1531.4 234.8h0M1564.4 244.2h0M1585.4 180.5h0M1548.5 182.3h0M1583.9 177.8h0M1579.3 178.9h0M1584.6 230.1h0M1592.6 210.4h0M1540.3 241.9h0M1598.8 190.6h0M1528.4 234.5h0M1527.9 220.1h0M1592.8 208.5h0M1591.8 182.8h0M1529.8 201.3h0M1581.5 235.8h0M1534.9 232.5h0M1532.9 239.7h0M1532.4 230.5h0M1535.9 238.0h0M1557.4 242.4h0M1597.7 205.8h0M1588.2 222.1h0M1526.7 200.8h0M1542.5 192.7h0M1528.4 208.7h0M1600.1 190.5h0M1570.7 175.3h0M1558.8 183.5h0M1593.1 187.0h0M1528.6 209.3h0M1529.1 221.6h0M1577.1 174.2h0M1583.4 228.3h0M1597.6 211.5h0M1535.2 233.7h0M1543.0 244.5h0M1526.8 232.3h0M1594.2 190.9h0M1566.7 247.8h0M1559.9 243.3h0M1559.2 179.6h0M1595.0 198.5h0M1594.3 186.6h0M1582.0 232.3h0M1553.9 183.4h0M1539.9 239.5h0M1528.3 215.1h0M1592.4 183.0h0M1558.0 246.3h0M1583.3 179.6h0M1596.7 190.5h0M1529.5 226.5h0M1553.3 242.7h0M1555.1 182.2h0M1572.6 246.1h0M1525.8 209.3h0M1554.1 181.0h0M1527.5 217.0h0M1535.5 246.3h0M1593.7 204.8h0M1589.5 175.1h0M1562.7 247.4h0M1530.4 209.8h0M1540.4 240.1h0M1592.3 184.8h0M1534.0 194.4h0M1550.0 186.1h0M1572.1 175.1h0M1548.8 242.5h0M1529.2 226.9h0M1557.6 183.7h0M1601.5 196.0h0M1576.4 178.8h0M1597.6 199.4h0M1535.2 197.5h0M1576.1 178.5h0M1585.5 222.8h0M1589.4 216.1h0M1532.5 195.4h0M1596.1 190.0h0M1601.1 201.7h0M1578.9 236.6h0M1592.3 207.4h0M1541.1 241.3h0M1563.3 243.7h0M1551.4 185.0h0M1597.4 201.6h0M1562.3 243.6h0M1580.6 229.9h0M1597.6 185.8h0M1572.4 242.2h0M1588.8 221.4h0M1582.2 229.2h0M1566.9 240.9h0M1583.7 230.1h0M1544.7 185.6h0M1538.1 193.8h0M1529.8 198.3h0M1552.1 185.6h0M1582.7 231.9h0M1592.5 221.6h0M1587.8 221.7h0M1524.1 208.0h0M1594.5 180.0h0M1593.6 186.1h0M1595.4 208.2h0M1581.9 228.5h0M1550.9 188.4h0M1528.5 230.3h0M1541.2 238.4h0M1579.9 178.3h0M1537.8 190.5h0M1563.2 243.7h0M1540.0 192.8h0M1534.4 190.5h0M1556.2 183.4h0M1528.0 230.2h0M1596.2 183.0h0M1563.2 247.6h0M1559.8 183.1h0M1587.2 179.7h0M1529.5 236.2h0M1599.1 190.4h0M1558.5 185.4h0M1555.1 242.1h0M1584.9 226.6h0M1577.0 238.6h0M1596.5 213.4h0M1572.9 177.9h0M1582.8 177.6h0M1576.9 243.5h0M1596.2 184.8h0M1542.0 241.9h0M1532.3 230.9h0M1594.8 222.9h0M1530.8 200.9h0M1594.9 201.0h0M1526.4 216.1h0M1553.7 179.3h0M1552.0 185.6h0M1596.5 199.0h0M1573.7 242.6h0M1599.8 219.0h0M1541.5 190.9h0M1546.4 188.7h0M1528.2 226.8h0M1590.0 180.4h0M1561.5 243.5h0M1590.2 223.1h0M1526.8 209.5h0M1589.1 216.5h0M1554.3 251.2h0M1581.0 177.6h0M1543.2 240.4h0M1596.0 183.7h0M1577.8 175.8h0M1532.6 197.4h0M1528.9 237.1h0M1577.6 234.4h0M1573.8 239.1h0M1595.2 213.5h0M1581.5 232.0h0M1565.6 182.6h0M1595.5 184.3h0M1593.6 188.5h0M1592.9 181.5h0M1540.8 238.3h0M1584.0 229.5h0M1591.3 213.1h0M1541.9 247.6h0M1591.7 177.5h0M1545.6 190.9h0M1596.3 201.4h0M1590.1 220.3h0M1583.4 226.3h0M1594.5 211.2h0M1521.2 218.5h0M1594.4 189.0h0M1572.7 181.1h0M1526.5 224.9h0M1541.0 246.3h0M1530.1 201.7h0M1592.6 211.2h0M1532.8 198.8h0M1585.3 177.6h0M1527.0 233.1h0M1591.9 183.1h0M1566.2 176.6h0M1544.7 190.2h0M1579.7 237.6h0M1560.8 174.2h0M1532.6 231.6h0M1594.2 207.3h0M1581.5 238.8h0M1551.6 186.1h0M1567.9 244.8h0M1528.6 220.9h0M1528.9 209.8h0M1551.6 242.0h0M1571.0 245.2h0M1586.2 223.9h0M1590.7 180.5h0M1551.7 183.0h0M1562.3 183.1h0M1548.0 249.2h0M1588.5 224.7h0M1585.8 179.3h0M1545.1 184.4h0M1594.7 180.8h0M1561.9 252.5h0M1539.8 240.4h0M1572.4 179.9h0M1582.9 235.5h0M1541.4 241.2h0M1595.8 195.7h0M1605.8 183.1h0M1593.0 212.2h0M1595.4 196.2h0M1529.5 220.5h0M1593.3 211.3h0M1561.4 243.7h0M1562.1 183.8h0M1578.6 236.0h0M1576.5 241.1h0M1544.9 190.5h0M1593.1 185.1h0M1585.3 177.4h0M1597.4 182.1h0M1530.4 207.6h0M1584.9 222.9h0M1557.3 243.4h0M1579.8 232.8h0M1589.2 225.7h0M1552.9 188.2h0M1595.9 205.3h0M1527.7 226.9h0M1588.4 221.1h0M1545.6 190.3h0M1595.2 180.7h0M1595.7 214.3h0M1590.0 222.0h0M1550.9 244.2h0M1530.3 204.7h0M1552.6 242.1h0M1598.1 187.2h0M1594.2 202.1h0M1551.2 244.6h0M1578.5 235.0h0M1524.9 224.3h0M1536.7 240.6h0M1595.7 210.0h0M1546.0 242.5h0M1528.1 199.1h0M1590.8 183.3h0M1601.8 204.9h0M1541.6 241.5h0M1558.1 243.7h0M1540.7 247.8h0M1580.7 234.4h0M1537.9 194.1h0M1586.9 221.5h0M1588.0 177.1h0M1526.2 208.3h0M1595.7 180.7h0M1544.5 183.1h0M1597.0 188.6h0M1542.7 246.5h0" stroke="#2F3385" stroke-width="1.9" stroke-linecap="round" fill="none"/>
<path d="M1515.5 296.2h0M1508.0 246.1h0M1514.0 290.1h0M1508.5 266.8h0M1508.5 257.9h0M1508.1 292.2h0M1511.0 250.1h0M1509.2 301.6h0M1511.6 257.3h0M1507.4 273.2h0M1510.1 252.8h0M1518.8 270.1h0M1506.7 261.4h0M1518.8 256.8h0M1508.2 266.1h0M1509.7 285.1h0M1507.0 246.3h0M1513.1 273.2h0M1514.7 275.7h0M1507.2 255.2h0M1516.0 290.9h0M1510.0 295.2h0M1507.1 275.4h0M1511.2 266.2h0M1512.6 277.9h0M1512.7 252.4h0M1517.9 298.7h0M1516.7 295.1h0M1518.8 294.8h0M1508.5 279.1h0M1512.1 270.2h0M1512.4 265.8h0M1507.6 279.4h0M1510.0 276.4h0M1508.5 247.2h0M1509.9 277.8h0M1507.4 309.3h0M1511.3 249.0h0M1509.0 264.6h0M1511.1 279.8h0M1506.9 281.3h0M1508.8 307.1h0M1512.1 250.0h0M1515.5 280.0h0M1520.8 274.5h0M1516.2 277.0h0M1519.6 251.7h0M1524.1 277.3h0M1512.4 288.5h0M1506.9 268.8h0M1510.4 304.7h0M1517.4 259.3h0M1513.7 304.5h0M1517.3 261.9h0M1509.7 264.4h0M1512.8 295.0h0M1511.1 257.8h0M1518.3 295.6h0M1509.2 303.7h0M1509.3 270.4h0M1507.6 310.1h0M1530.9 257.5h0M1511.5 249.3h0M1515.7 248.9h0M1508.2 277.0h0M1512.4 281.8h0M1516.6 252.0h0M1521.4 278.1h0M1508.5 289.0h0M1509.7 269.8h0M1508.5 301.3h0M1514.0 302.4h0M1527.0 264.0h0M1511.6 302.3h0M1508.2 289.2h0M1508.7 250.7h0M1513.4 274.1h0M1516.2 283.7h0M1522.9 280.3h0M1509.3 259.9h0M1507.2 278.9h0M1512.5 295.9h0M1523.9 261.3h0M1507.1 251.4h0M1523.1 283.0h0M1512.1 285.8h0M1508.8 289.1h0M1508.6 295.4h0M1508.3 244.9h0M1511.1 247.0h0M1509.7 287.3h0M1510.0 289.8h0M1508.5 281.4h0M1508.5 312.1h0M1510.8 254.3h0M1512.7 259.5h0M1514.5 293.7h0M1520.5 295.0h0M1512.2 270.2h0M1508.7 269.2h0M1520.0 253.4h0M1526.3 278.4h0M1510.5 269.5h0M1524.9 264.4h0M1511.5 268.1h0M1510.8 299.3h0M1507.1 257.1h0M1533.3 264.5h0M1510.9 261.3h0M1516.5 265.4h0M1518.9 283.7h0M1507.4 291.3h0M1508.0 254.9h0M1509.3 279.9h0M1513.2 266.3h0M1511.3 261.3h0M1506.8 303.0h0M1531.7 276.3h0M1513.6 253.4h0M1510.6 265.7h0M1515.4 302.7h0M1528.2 281.2h0M1527.8 256.2h0M1508.3 264.5h0M1519.4 279.0h0M1509.0 272.6h0M1518.9 294.9h0M1512.5 288.1h0M1521.9 271.1h0M1512.3 263.4h0M1517.8 263.9h0M1509.7 256.9h0M1508.4 272.2h0M1508.3 264.1h0M1513.7 302.4h0M1515.5 283.8h0M1515.5 254.3h0M1512.2 283.9h0M1516.0 288.7h0M1513.1 274.8h0M1516.7 276.5h0M1511.2 298.6h0M1499.1 240.2h0M1501.5 243.7h0M1422.9 240.1h0M1463.7 243.3h0M1456.7 239.1h0M1436.9 240.4h0M1500.0 236.9h0M1451.3 244.7h0M1434.8 241.8h0M1499.6 245.4h0M1431.8 237.7h0M1437.4 246.4h0M1488.2 244.2h0M1497.6 247.0h0M1485.0 233.6h0M1473.9 246.3h0M1426.0 245.3h0M1447.8 247.2h0M1465.8 241.4h0M1427.2 247.0h0M1447.8 244.6h0M1486.6 237.1h0M1503.4 246.2h0M1488.0 241.4h0M1430.8 239.9h0M1483.6 240.1h0M1485.4 246.7h0M1501.7 237.5h0M1463.9 246.6h0M1456.5 245.9h0M1498.8 244.2h0M1420.7 238.6h0M1438.9 242.8h0M1464.0 239.7h0M1460.5 241.5h0M1445.9 245.9h0M1480.1 231.0h0M1471.5 238.5h0M1434.4 245.0h0M1468.4 241.7h0M1488.4 238.7h0M1486.9 235.8h0M1500.3 230.1h0M1485.3 246.4h0M1473.9 247.2h0M1452.7 245.0h0M1488.2 241.7h0M1438.7 246.3h0M1489.0 239.7h0M1481.5 245.0h0M1489.1 243.6h0M1442.0 238.4h0M1448.9 237.0h0M1427.1 237.3h0M1458.4 245.7h0M1502.5 242.9h0M1451.9 241.7h0M1460.5 239.1h0M1457.6 246.1h0M1503.4 242.4h0M1416.6 327.7h0M1400.1 306.7h0M1581.6 173.3h0M1552.8 253.8h0M1605.3 205.5h0M1548.7 259.2h0M1536.7 176.8h0M1605.9 228.9h0M1580.1 173.0h0M1526.6 186.7h0M1599.3 234.5h0M1589.4 248.0h0M1597.9 184.0h0M1536.5 244.7h0M1578.9 161.6h0M1541.3 255.3h0M1594.7 239.8h0M1554.6 257.4h0M1555.8 158.6h0M1580.8 169.4h0M1527.4 184.7h0M1596.6 184.0h0M1566.8 167.7h0M1548.3 171.0h0M1603.5 223.6h0M1521.5 211.7h0M1590.2 248.3h0M1599.9 247.0h0M1587.5 252.9h0M1605.2 210.7h0M1551.5 256.9h0M1589.3 176.3h0M1552.3 169.8h0M1554.1 254.9h0M1593.5 247.4h0M1588.2 176.3h0M1568.4 174.9h0M1580.1 174.1h0M1585.2 165.1h0M1581.5 169.2h0M1575.6 175.8h0M1597.2 175.5h0M1585.6 174.9h0M1570.4 166.9h0M1609.3 170.8h0M1573.9 163.1h0" stroke="#2F3385" stroke-width="1.9" stroke-linecap="round" fill="none"/>
<path d="M1399.5 249.2C1403 247.6 1413 245.7 1418.8 245.3C1424.7 244.8 1435.2 245.2 1441.5 245.8C1447.9 246.4 1457.9 248.1 1464.2 249.5C1470.6 250.8 1481.6 253.7 1486.9 255.5C1492.1 257.3 1498.8 259.8 1501.6 262.3C1504.5 264.7 1506.7 269.9 1507.3 273.1C1507.9 276.2 1507.1 281.4 1506.2 285C1505.2 288.5 1502.9 294.4 1500.5 298.6C1498.1 302.7 1492.7 310.2 1489.2 314.5C1485.7 318.7 1479.4 325.2 1475.5 328.6C1471.7 332 1465.9 336.8 1461.9 338.8C1458 340.9 1451 342.8 1447.2 343.2C1443.4 343.5 1438.2 342.7 1434.7 341.1C1431.2 339.6 1426 335.4 1422.2 332C1418.4 328.7 1411.1 321.6 1407.5 317.3C1403.8 313 1398.5 305.7 1396.1 301.4C1393.8 297.1 1391.5 291 1390.7 286.7C1389.9 282.4 1390 274.9 1390.5 270.8C1390.9 266.7 1392.6 260.2 1393.9 257.2C1395.1 254.2 1396.1 250.9 1399.5 249.2Z" fill="#2F3385"/>
<path d="M1409.2 259.2C1413 257.4 1423.2 255.1 1429.4 254.7C1435.5 254.2 1446.5 254.9 1453.1 255.9C1459.8 256.9 1471.4 259.6 1476.9 261.8C1482.4 264 1489.7 268.5 1492.3 271.3C1495 274.1 1496.1 278.3 1495.9 281.8C1495.7 285.2 1493.8 291.7 1491.2 296C1488.5 300.3 1480.9 308.8 1476.9 312.6C1472.9 316.5 1466.3 321.3 1462.6 323.3C1459 325.3 1454.1 326.7 1450.8 326.9C1447.4 327.1 1442.7 326.5 1438.9 324.5C1435.1 322.5 1427.6 316.5 1423.5 312.6C1419.3 308.8 1412.2 301.5 1409.2 297.2C1406.2 292.9 1403.3 285.9 1402.3 281.8C1401.3 277.6 1401.3 270.7 1402.3 267.5C1403.3 264.4 1405.4 261 1409.2 259.2Z" fill="#3D5DB8"/>
<path d="M1419.9 261C1423.2 260.1 1431 260 1436.5 260.4C1442 260.8 1453.4 262.5 1459.1 263.9C1464.7 265.4 1473 268.6 1476.9 271.1C1480.8 273.6 1486 278.9 1487 281.8C1488 284.6 1486.1 288.4 1484 291.3C1481.9 294.1 1475 299.6 1472.1 302C1469.3 304.3 1465.8 305.9 1463.8 307.9C1461.8 309.9 1459.7 314.5 1457.9 316.2C1456.1 317.9 1453.1 319.8 1450.8 319.8C1448.4 319.8 1444.6 318.5 1441.3 316.2C1437.9 313.9 1430.7 307 1427 303.1C1423.4 299.3 1417.5 292.7 1415.1 288.9C1412.7 285.1 1410.1 279 1409.8 275.8C1409.5 272.7 1411.3 268.4 1412.8 266.3C1414.2 264.2 1416.6 261.8 1419.9 261Z" fill="#5CCCE0"/>
<path d="M1424.6 265.7C1427.5 264.5 1432.2 264.3 1436.5 264.5C1440.8 264.8 1450.7 266.3 1455.5 267.5C1460.3 268.8 1467.8 271.3 1471 273.5C1474.1 275.6 1477.6 280.5 1478.1 283C1478.6 285.4 1476.5 288.8 1474.5 291.3C1472.5 293.8 1466.3 298.3 1463.8 300.8C1461.3 303.3 1458.5 307.4 1456.7 309.1C1454.9 310.7 1452.9 312.8 1450.8 312.6C1448.6 312.5 1444.6 310.2 1441.3 307.9C1437.9 305.6 1430.3 299.5 1427 296C1423.7 292.5 1419.1 286.1 1417.5 283C1415.9 279.8 1414.7 275.9 1415.7 273.5C1416.7 271 1421.7 267 1424.6 265.7Z" fill="#9ADA27"/>
<path d="M1429.4 269.9C1432.9 268.7 1442.6 269.4 1447.2 269.9C1451.9 270.4 1459.2 271.8 1462.6 273.5C1466.1 275.1 1471.2 279.4 1472.1 281.8C1473.1 284.1 1471.4 287.8 1469.8 290.1C1468.1 292.4 1462.6 296.2 1460.3 298.4C1457.9 300.6 1455 304.2 1453.1 305.5C1451.3 306.9 1449.4 308.6 1447.2 307.9C1445 307.2 1440.7 303.4 1437.7 300.8C1434.7 298.1 1428 292.1 1425.8 288.9C1423.7 285.7 1421.8 280.9 1422.3 278.2C1422.8 275.5 1425.9 271.1 1429.4 269.9Z" fill="#FFE512"/>
<path d="M1436.5 276.4C1438.8 275.8 1445.4 275.4 1448.4 275.8C1451.4 276.2 1455.7 278.1 1457.9 279.4C1460.1 280.7 1463.5 283.5 1463.8 285.3C1464.2 287.2 1461.8 290.6 1460.3 292.5C1458.8 294.3 1454.8 297.2 1453.1 298.4C1451.5 299.6 1450.2 301.3 1448.4 300.8C1446.6 300.3 1442.2 296.7 1440.1 294.8C1437.9 293 1434.1 289.7 1433 287.7C1431.8 285.7 1431.3 282.2 1431.8 280.6C1432.3 279 1434.2 277.1 1436.5 276.4Z" fill="#F7790F"/>
<path d="M1441.3 280.6C1442.9 280 1447.4 279.1 1449.6 279.4C1451.7 279.7 1455.4 281.9 1456.7 283C1458 284 1459.3 285.8 1459.1 287.1C1458.9 288.4 1456.9 291.2 1455.5 292.5C1454.2 293.7 1451.2 296 1449.6 296C1447.9 296 1445.1 293.6 1443.6 292.5C1442.1 291.3 1439.7 289 1438.9 287.7C1438.1 286.5 1437.4 284.5 1437.7 283.5C1438 282.5 1439.6 281.2 1441.3 280.6Z" fill="#E8182A"/>
<path d="M1444.2 283C1445.6 282.4 1449.3 281.9 1450.8 282.4C1452.3 282.8 1454.6 284.8 1454.9 285.9C1455.3 287 1454.1 289.2 1453.1 290.1C1452.2 291 1449.7 292.5 1448.4 292.5C1447.1 292.5 1444.6 290.9 1443.6 290.1C1442.6 289.2 1441.2 287.5 1441.3 286.5C1441.4 285.5 1442.9 283.5 1444.2 283Z" fill="#AB272D"/>
<path d="M1530.1 203.3C1531.7 200 1536.3 195.6 1539.8 193.1C1543.2 190.6 1550.3 187.5 1554.6 185.7C1558.9 183.9 1566.2 181 1570.3 180.1C1574.5 179.2 1581.1 178.7 1584.2 179.2C1587.4 179.7 1591.3 181.4 1593 183.4C1594.7 185.3 1596.1 190 1596.3 193.1C1596.5 196.1 1595.6 201.6 1594.6 205.1C1593.6 208.6 1591.1 214.6 1589.3 218.1C1587.5 221.6 1584.2 227.2 1581.9 230.1C1579.6 233.1 1575.9 237.4 1573.1 239.4C1570.3 241.3 1565.4 243.5 1562 244C1558.6 244.5 1552.3 243.9 1549 243.1C1545.7 242.3 1541 240.3 1538.4 238.5C1535.8 236.6 1532 232.8 1530.5 229.7C1529 226.6 1527.8 219.9 1527.7 216.2C1527.7 212.5 1528.4 206.5 1530.1 203.3Z" fill="#2F3385"/>
<path d="M1530.8 208.1C1532.5 203.8 1538.3 199.3 1542.6 196.3C1546.9 193.3 1556.5 189 1561.5 186.9C1566.5 184.7 1574 181.6 1578 181C1582 180.3 1587.3 180.8 1589.8 182.1C1592.3 183.5 1595 187.4 1595.7 190.4C1596.4 193.4 1595.7 199.2 1594.5 203.4C1593.4 207.5 1589.8 215.6 1587.4 219.9C1585.1 224.2 1581 230.7 1578 234C1575 237.3 1569.8 242 1566.2 243.5C1562.6 245 1555.9 245.3 1552.1 244.7C1548.3 244 1542.1 241.2 1539.1 238.8C1536.1 236.3 1532 231.3 1530.8 227C1529.7 222.7 1529.2 212.4 1530.8 208.1Z" fill="#3D60BC"/>
<path d="M1539.7 210.6C1540.9 208.5 1544.3 204.8 1547.4 202.8C1550.5 200.8 1558.2 198.2 1561.7 196.2C1565.3 194.2 1570.1 189.9 1572.8 188.5C1575.4 187.1 1578.6 186.1 1580.5 186.3C1582.3 186.5 1585.1 188.1 1586 189.6C1586.9 191.2 1587.4 194.7 1587.1 197.3C1586.8 199.9 1585.2 205.3 1583.8 208.3C1582.4 211.4 1579.2 216.3 1577.2 219.4C1575.2 222.5 1571.9 228.2 1569.5 230.4C1567 232.6 1562.5 234.3 1559.5 234.8C1556.6 235.3 1551.1 234.9 1548.5 233.7C1545.9 232.5 1542.2 228.3 1540.8 226C1539.4 223.7 1538.7 219.3 1538.6 217.2C1538.4 215 1538.5 212.6 1539.7 210.6Z" fill="#5CCDE0"/>
<path d="M1546.3 210.6C1547.2 209 1550.4 207.5 1552.9 206.1C1555.4 204.8 1560.9 202.3 1563.9 200.6C1567 198.9 1572.6 194.8 1575 194C1577.3 193.2 1579.5 194.2 1580.5 195.1C1581.5 196 1582.3 198.6 1582.1 200.6C1582 202.6 1580.5 206.8 1579.4 209.5C1578.2 212.1 1575.7 216.8 1573.9 219.4C1572 222 1568.3 226.8 1566.1 228.2C1564 229.6 1560.6 229.8 1558.4 229.3C1556.3 228.8 1552.4 226.6 1550.7 224.9C1549 223.2 1546.9 219.2 1546.3 217.2C1545.7 215.2 1545.4 212.1 1546.3 210.6Z" fill="#72D3AC"/>
<g stroke="#1a1a1a" fill="none">
<path d="M1373.4 75.6V356.5H1657.4" stroke-width="2.5"/>
<path d="M1365.7 356.5H1373.4M1373.4 356.5V366.3M1365.7 300.5H1373.4M1429.8 356.5V366.3M1365.7 244.5H1373.4M1486.2 356.5V366.3M1365.7 188.5H1373.4M1542.7 356.5V366.3M1365.7 132.5H1373.4M1599.1 356.5V366.3M1365.7 76.5H1373.4M1655.5 356.5V366.3" stroke-width="0.9" stroke="#555"/>
</g>
<g font-size="15" fill="#222" style="fill:#222">
<text x="1364.8" y="361.2" text-anchor="end" style="fill:#222">0</text>
<text x="1364.8" y="305.2" text-anchor="end" style="fill:#222">200</text>
<text x="1364.8" y="249.2" text-anchor="end" style="fill:#222">400</text>
<text x="1364.8" y="193.2" text-anchor="end" style="fill:#222">600</text>
<text x="1364.8" y="137.2" text-anchor="end" style="fill:#222">800</text>
<text x="1364.8" y="81.2" text-anchor="end" style="fill:#222">1000</text>
<text x="1373.4" y="380.7" text-anchor="middle" style="fill:#222">0</text>
<text x="1429.8" y="380.7" text-anchor="middle" style="fill:#222">200</text>
<text x="1486.2" y="380.7" text-anchor="middle" style="fill:#222">400</text>
<text x="1542.7" y="380.7" text-anchor="middle" style="fill:#222">600</text>
<text x="1599.1" y="380.7" text-anchor="middle" style="fill:#222">800</text>
<text x="1655.5" y="380.7" text-anchor="middle" style="fill:#222">1000</text>
</g>
<text x="1508.8" y="411.2" font-size="18.9" text-anchor="middle" style="fill:#222">Forward light scatter (FSC)</text>
<text font-size="18.9" text-anchor="middle" transform="translate(1319 245.3) rotate(-90)" style="fill:#222">Side light scatter (SSC)</text>
</g>
<g class="b">
<text x="-2.6" y="25.8" font-size="44">a</text>
<text x="-1" y="556" font-size="43">b</text>
<text x="457" y="556" font-size="43">c</text>
<text x="838.5" y="555.6" font-size="43">d</text>
</g>
<g id="panel-b">
<text class="b" x="206.5" y="633.4" font-size="30" text-anchor="middle">ATS1 vs Ctr</text>
<text class="b" font-size="30" text-anchor="middle" transform="translate(62.1 888.6) rotate(-90)">Decrease of mothers</text>
<text class="b" font-size="30" text-anchor="middle" letter-spacing="-0.27" transform="translate(97.7 889.6) rotate(-90)">with mHtt inclusions (%)</text>
<rect x="179.9" y="853" width="40.1" height="258" fill="#F47B3C"/>
<path d="M199.7 853V831M189.2 831H209.7" stroke="#F47B3C" stroke-width="1.8" fill="none"/>
<g stroke="#000" stroke-width="3.6" fill="none">
<path d="M160.1 672.2V1112.8"/>
<path d="M144.8 1111.0H241.6"/>
<path d="M144.8 1001.8H160"/>
<path d="M144.8 892.5H160"/>
<path d="M144.8 783.2H160"/>
<path d="M144.8 674.0H160"/>
<path d="M199.6 1111.0V1127"/>
</g>
<g class="b" font-size="27.5" text-anchor="end">
<text x="141.5" y="1120.9">0</text>
<text x="141.5" y="1011.6">10</text>
<text x="141.5" y="902.4">20</text>
<text x="141.5" y="793.1">30</text>
<text x="141.5" y="683.9">40</text>
</g>
<circle cx="199.5" cy="820.7" r="5.5"/>
<circle cx="199.5" cy="843.8" r="5.5"/>
<circle cx="199.5" cy="894.4" r="5.5"/>
<text x="193.2" y="1157.8" font-size="29" text-anchor="middle">mHtt</text>
</g>
<g id="panel-c">
<text class="b" x="575.6" y="635.5" font-size="30" text-anchor="middle">ATS1 vs Ctr</text>
<text class="b" font-size="30" text-anchor="middle" transform="translate(421.2 889.9) rotate(-90)">Decrease of dead</text>
<text class="b" font-size="30" text-anchor="middle" letter-spacing="-0.25" transform="translate(457.2 889) rotate(-90)">labeled mothers (%)</text>
<rect x="549" y="1004.4" width="41" height="4.4" fill="#F47B3C"/>
<rect x="609.9" y="841.3" width="41.3" height="163.1" fill="#1FB6D5"/>
<path d="M569.6 1004.4V955.9M559 955.9H579.9" stroke="#F47B3C" stroke-width="1.8" fill="none"/>
<path d="M630.6 841.3V809.5M620.4 809.5H640.7" stroke="#1FB6D5" stroke-width="3.2" fill="none"/>
<g stroke="#000" stroke-width="3.6" fill="none">
<path d="M529.2 674.1V1115.7"/>
<path d="M513.8 1113.9H672.9"/>
<path d="M513.8 1004.4H671.5"/>
<path d="M513.8 894.9H529"/>
<path d="M513.8 785.4H529"/>
<path d="M513.8 675.9H529"/>
<path d="M569.4 1113.9V1128.7M630.6 1113.9V1128.7"/>
</g>
<g class="b" font-size="27.5" text-anchor="end">
<text x="510.5" y="1123.8">-20</text>
<text x="510.5" y="1014.3">0</text>
<text x="510.5" y="904.8">20</text>
<text x="510.5" y="795.3">40</text>
<text x="510.5" y="685.8">60</text>
</g>
<circle cx="569.4" cy="936.1" r="5.5"/>
<circle cx="569.4" cy="979.1" r="5.5"/>
<circle cx="569.4" cy="1095.8" r="5.5"/>
<circle cx="623.1" cy="857.9" r="5.5"/>
<circle cx="638.0" cy="857.9" r="5.5"/>
<circle cx="630.6" cy="899.2" r="5.5"/>
<circle cx="630.3" cy="750.8" r="5.5"/>
<path d="M570.9 699H632.5" stroke="#000" stroke-width="6"/>
<text class="b" x="601.7" y="698.5" font-size="45" text-anchor="middle">*</text>
<text x="491.4" y="1158.6" font-size="29" text-anchor="middle">mHtt</text>
<text x="631.6" y="1158.6" font-size="29" text-anchor="middle">+</text>
</g>
<g id="panel-d">
<g stroke="#000" stroke-width="4.5" fill="none">
<path d="M967.4 685.2V1081"/>
<path d="M945.7 1059.7H1736.8"/>
<path d="M945.7 966.7H967.4"/>
<path d="M945.7 873.6H967.4"/>
<path d="M945.7 780.5H967.4"/>
<path d="M945.7 687.5H967.4"/>
<path d="M1077.0 1059.7V1081"/>
<path d="M1186.6 1059.7V1081"/>
<path d="M1296.2 1059.7V1081"/>
<path d="M1405.8 1059.7V1081"/>
<path d="M1515.4 1059.7V1081"/>
<path d="M1625.0 1059.7V1081"/>
<path d="M1734.6 1059.7V1081"/>
</g>
<g fill="none" stroke-width="4.2" stroke-linejoin="round" stroke-linecap="butt">
<path d="M967.4 687.5H1000.3V693.5H1011.2V698.3H1022.2V702.4H1066.0V712.1H1077.0V717.3H1098.9V720.3H1109.9V726.6H1120.8V737.0H1131.8V741.8H1142.8V745.2H1153.7V763.8H1164.7V779.4H1175.6V789.9H1186.6V795.4H1197.6V802.9H1208.5V811.1H1219.5V816.3H1230.4V826.3H1241.4V828.9H1252.4V834.1H1263.3V842.3H1274.3V860.9H1285.2V871.4H1296.2V881.8H1307.2V897.4H1318.1V910.4H1329.1V923.1H1340.0V936.5H1351.0V950.6H1362.0V960.0H1372.9V968.1H1383.9V978.9H1394.8V989.4H1405.8V1007.2H1416.8V1014.3H1427.7V1022.5H1438.7V1026.2H1449.6V1030.3H1471.6V1032.9H1482.5V1039.2H1493.5V1043.7H1504.4V1050.4H1515.4V1051.5H1526.4V1054.1H1548.3V1056.7H1559.2" stroke="#F47B3C"/>
<path d="M967.4 687.5H1022.2V690.5H1055.1V693.5H1066.0V698.3H1088.0V703.9H1098.9V709.5H1109.9V714.7H1120.8V719.1H1131.8V728.1H1142.8V736.3H1153.7V741.5H1164.7V744.1H1175.6V754.5H1186.6V757.1H1197.6V772.7H1208.5V786.1H1219.5V805.9H1230.4V815.9H1241.4V833.0H1252.4V843.1H1263.3V851.3H1274.3V859.1H1285.2V867.3H1296.2V888.9H1307.2V917.9H1318.1V926.5H1329.1V937.2H1340.0V944.3H1351.0V957.7H1362.0V966.7H1372.9V985.3H1383.9V997.9H1394.8V1000.5H1405.8V1009.1H1416.8V1016.9H1438.7V1025.1H1449.6V1032.9H1460.6V1035.9H1482.5V1043.7H1493.5V1046.7H1504.4V1048.9H1526.4V1051.1H1537.3V1053.4H1592.1V1056.7H1636.0V1059.7" stroke="#000"/>
<path d="M967.4 687.5H989.3V689.4H1011.2V691.2H1022.2V693.5H1033.2V695.3H1044.1V699.8H1055.1V703.1H1066.0V709.1H1077.0V719.9H1098.9V728.4H1109.9V734.8H1120.8V741.1H1131.8V745.2H1142.8V748.5H1153.7V750.8H1164.7V759.0H1175.6V760.5H1186.6V772.4H1197.6V780.5H1208.5V788.4H1219.5V802.1H1230.4V810.0H1241.4V830.1H1252.4V848.3H1263.3V863.9H1274.3V887.7H1285.2V899.7H1296.2V909.7H1307.2V919.8H1318.1V931.7H1329.1V947.7H1340.0V954.7H1351.0V974.8H1362.0V986.7H1372.9V997.2H1383.9V1004.2H1394.8V1012.4H1405.8V1015.8H1416.8V1028.4H1427.7V1034.0H1449.6V1042.2H1460.6V1043.7H1471.6V1046.3H1482.5V1048.9H1493.5V1052.3H1504.4V1054.5H1548.3V1055.6H1559.2V1058.2H1603.1" stroke="#1FB6D5"/>
</g>
<g class="b" font-size="32" text-anchor="end">
<text x="936.7" y="1074.0">0</text>
<text x="934.1" y="981.0">25</text>
<text x="934.1" y="887.9">50</text>
<text x="934.1" y="794.8">75</text>
<text x="929.3" y="701.8">100</text>
</g>
<g class="b" font-size="32" text-anchor="middle">
<text x="965.7" y="1124.7">0</text>
<text x="1073.8" y="1124.7">10</text>
<text x="1182.3" y="1124.7">20</text>
<text x="1292.0" y="1124.7">30</text>
<text x="1401.3" y="1124.7">40</text>
<text x="1511.8" y="1124.7">50</text>
<text x="1620.9" y="1124.7">60</text>
<text x="1731.0" y="1124.7">70</text>
<text x="1330.1" y="1178" font-size="31">Divisions</text>
<text transform="translate(865.1 855.75) rotate(-90)">Survival (%)</text>
</g>
<g font-size="31.3" text-anchor="end">
<text x="1739.3" y="705.9">Tet1p-Hsp104-Pea2 (30)</text>
<text x="1739.3" y="768.7" letter-spacing="0.1">Tet1p-Pea2 (30)</text>
<text x="1739.8" y="831.1" letter-spacing="0.5">BY4741 (28)</text>
</g>
<path d="M1326.9 692.3H1382" stroke="#F47B3C" stroke-width="4.2"/>
<path d="M1440.4 755.1H1495.3" stroke="#000" stroke-width="4.2"/>
<path d="M1473.8 817.9H1528.1" stroke="#1FB6D5" stroke-width="4.2"/>
</g>
</svg>
</body>
</html>
